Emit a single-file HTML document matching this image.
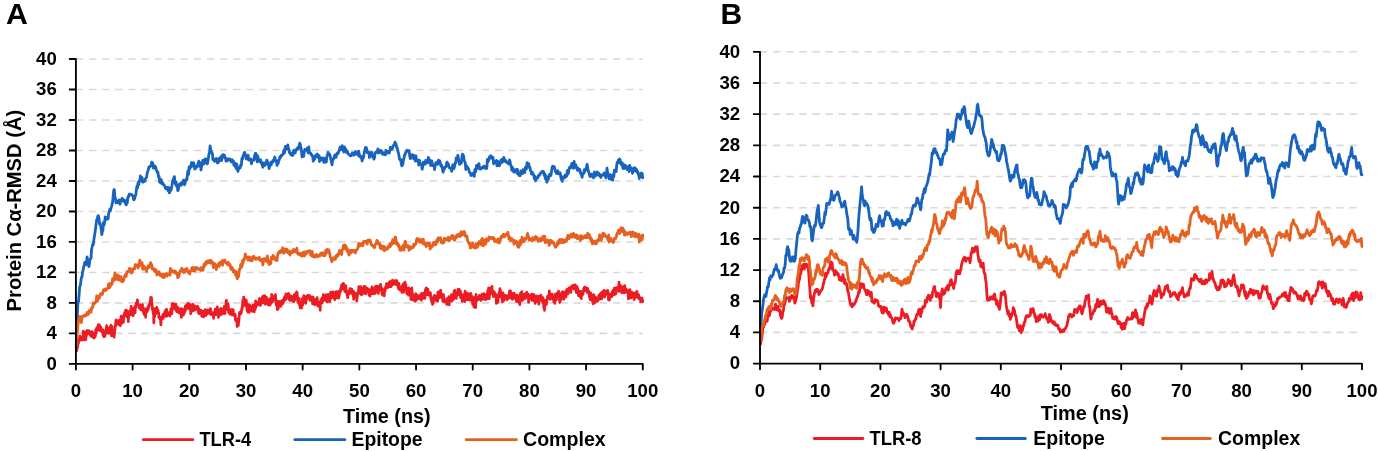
<!DOCTYPE html>
<html><head><meta charset="utf-8"><style>
html,body{margin:0;padding:0;background:#fff;width:1378px;height:451px;overflow:hidden}
svg{position:absolute;left:0;top:0;display:block;will-change:transform}
text{font-family:"Liberation Sans", sans-serif;font-weight:bold}
</style></head><body>
<svg width="1378" height="451" viewBox="0 0 1378 451">
<rect width="1378" height="451" fill="#fff"/>
<line x1="75.90" y1="333.41" x2="642.80" y2="333.41" stroke="#d9d9d9" stroke-width="1.6" stroke-dasharray="7.3 5.8"/>
<line x1="75.90" y1="302.92" x2="642.80" y2="302.92" stroke="#d9d9d9" stroke-width="1.6" stroke-dasharray="7.3 5.8"/>
<line x1="75.90" y1="272.43" x2="642.80" y2="272.43" stroke="#d9d9d9" stroke-width="1.6" stroke-dasharray="7.3 5.8"/>
<line x1="75.90" y1="241.94" x2="642.80" y2="241.94" stroke="#d9d9d9" stroke-width="1.6" stroke-dasharray="7.3 5.8"/>
<line x1="75.90" y1="211.45" x2="642.80" y2="211.45" stroke="#d9d9d9" stroke-width="1.6" stroke-dasharray="7.3 5.8"/>
<line x1="75.90" y1="180.96" x2="642.80" y2="180.96" stroke="#d9d9d9" stroke-width="1.6" stroke-dasharray="7.3 5.8"/>
<line x1="75.90" y1="150.47" x2="642.80" y2="150.47" stroke="#d9d9d9" stroke-width="1.6" stroke-dasharray="7.3 5.8"/>
<line x1="75.90" y1="119.98" x2="642.80" y2="119.98" stroke="#d9d9d9" stroke-width="1.6" stroke-dasharray="7.3 5.8"/>
<line x1="75.90" y1="89.49" x2="642.80" y2="89.49" stroke="#d9d9d9" stroke-width="1.6" stroke-dasharray="7.3 5.8"/>
<line x1="75.90" y1="59.00" x2="642.80" y2="59.00" stroke="#d9d9d9" stroke-width="1.6" stroke-dasharray="7.3 5.8"/>
<line x1="760.00" y1="332.42" x2="1362.00" y2="332.42" stroke="#d9d9d9" stroke-width="1.6" stroke-dasharray="7.3 5.8"/>
<line x1="760.00" y1="301.24" x2="1362.00" y2="301.24" stroke="#d9d9d9" stroke-width="1.6" stroke-dasharray="7.3 5.8"/>
<line x1="760.00" y1="270.06" x2="1362.00" y2="270.06" stroke="#d9d9d9" stroke-width="1.6" stroke-dasharray="7.3 5.8"/>
<line x1="760.00" y1="238.88" x2="1362.00" y2="238.88" stroke="#d9d9d9" stroke-width="1.6" stroke-dasharray="7.3 5.8"/>
<line x1="760.00" y1="207.70" x2="1362.00" y2="207.70" stroke="#d9d9d9" stroke-width="1.6" stroke-dasharray="7.3 5.8"/>
<line x1="760.00" y1="176.52" x2="1362.00" y2="176.52" stroke="#d9d9d9" stroke-width="1.6" stroke-dasharray="7.3 5.8"/>
<line x1="760.00" y1="145.34" x2="1362.00" y2="145.34" stroke="#d9d9d9" stroke-width="1.6" stroke-dasharray="7.3 5.8"/>
<line x1="760.00" y1="114.16" x2="1362.00" y2="114.16" stroke="#d9d9d9" stroke-width="1.6" stroke-dasharray="7.3 5.8"/>
<line x1="760.00" y1="82.98" x2="1362.00" y2="82.98" stroke="#d9d9d9" stroke-width="1.6" stroke-dasharray="7.3 5.8"/>
<line x1="760.00" y1="51.80" x2="1362.00" y2="51.80" stroke="#d9d9d9" stroke-width="1.6" stroke-dasharray="7.3 5.8"/>
<polyline points="76.4,351.0 76.7,350.9 77.0,348.9 77.3,343.7 77.5,347.4 77.8,345.7 78.1,342.5 78.4,343.4 78.7,341.5 79.0,339.8 79.2,339.3 79.5,338.8 79.8,335.9 80.1,337.9 80.4,337.4 80.7,340.1 80.9,338.2 81.2,337.4 81.5,337.4 81.8,337.9 82.1,338.2 82.4,336.9 82.6,339.9 82.9,339.0 83.2,331.1 83.5,332.0 83.8,334.7 84.1,333.9 84.3,335.1 84.6,335.5 84.9,339.9 85.2,332.2 85.5,333.9 85.8,339.6 86.0,336.4 86.3,336.1 86.6,333.6 86.9,330.7 87.2,333.7 87.5,334.1 87.7,330.5 88.0,331.5 88.3,332.7 88.6,330.6 88.9,332.3 89.2,332.1 89.4,332.3 89.7,331.2 90.0,333.8 90.3,335.0 90.6,334.3 90.9,332.4 91.1,336.5 91.4,333.7 91.7,335.8 92.0,331.5 92.3,336.4 92.6,334.9 92.8,332.5 93.1,334.7 93.4,336.6 93.7,338.1 94.0,335.4 94.3,335.7 94.5,337.6 94.8,335.0 95.1,336.0 95.4,336.2 95.7,329.7 96.0,333.0 96.2,333.3 96.5,329.2 96.8,327.6 97.1,330.3 97.4,329.2 97.7,330.5 97.9,327.3 98.2,324.6 98.5,327.7 98.8,327.3 99.1,329.4 99.4,328.5 99.6,325.2 99.9,326.3 100.2,330.6 100.5,330.0 100.8,327.2 101.1,328.4 101.3,330.6 101.6,330.6 101.9,331.9 102.2,331.3 102.5,331.8 102.8,332.2 103.0,335.4 103.3,329.9 103.6,335.5 103.9,336.8 104.2,333.3 104.5,336.6 104.8,333.5 105.0,336.1 105.3,333.0 105.6,333.5 105.9,333.4 106.2,330.6 106.5,326.9 106.7,325.5 107.0,332.3 107.3,329.7 107.6,329.2 107.9,331.4 108.2,330.3 108.4,333.5 108.7,330.7 109.0,330.1 109.3,328.0 109.6,330.1 109.9,326.8 110.1,330.6 110.4,333.4 110.7,327.0 111.0,325.2 111.3,331.9 111.6,335.8 111.8,327.4 112.1,326.6 112.4,331.6 112.7,329.8 113.0,332.4 113.3,333.4 113.5,336.2 113.8,335.9 114.1,337.2 114.4,334.4 114.7,330.8 115.0,329.7 115.2,325.7 115.5,325.9 115.8,321.2 116.1,319.8 116.4,325.2 116.7,322.2 116.9,322.4 117.2,322.9 117.5,320.9 117.8,321.7 118.1,323.7 118.4,323.7 118.6,320.5 118.9,324.3 119.2,320.6 119.5,319.9 119.8,319.6 120.1,321.0 120.3,325.8 120.6,318.7 120.9,321.6 121.2,316.2 121.5,321.5 121.8,323.4 122.0,320.2 122.3,319.1 122.6,320.2 122.9,320.8 123.2,320.1 123.5,322.2 123.7,317.6 124.0,314.4 124.3,313.8 124.6,313.0 124.9,312.3 125.2,311.6 125.4,313.4 125.7,310.1 126.0,315.7 126.3,312.0 126.6,310.4 126.9,314.9 127.1,317.2 127.4,315.4 127.7,315.0 128.0,312.9 128.3,321.6 128.6,316.0 128.8,311.5 129.1,312.4 129.4,314.5 129.7,310.9 130.0,313.9 130.3,312.0 130.5,314.9 130.8,314.4 131.1,306.3 131.4,312.4 131.7,308.0 132.0,313.3 132.2,311.8 132.5,312.5 132.8,309.5 133.1,315.7 133.4,315.0 133.7,308.3 134.0,311.7 134.2,308.8 134.5,308.9 134.8,306.3 135.1,312.7 135.4,306.1 135.7,305.7 135.9,307.3 136.2,303.0 136.5,303.2 136.8,302.7 137.1,302.6 137.4,299.9 137.6,301.8 137.9,303.6 138.2,304.4 138.5,305.2 138.8,305.1 139.1,307.8 139.3,305.7 139.6,306.4 139.9,304.9 140.2,305.8 140.5,304.7 140.8,309.9 141.0,306.6 141.3,306.6 141.6,308.9 141.9,309.7 142.2,308.5 142.5,304.6 142.7,310.6 143.0,310.7 143.3,307.7 143.6,313.1 143.9,311.0 144.2,311.3 144.4,314.8 144.7,314.1 145.0,315.1 145.3,310.2 145.6,317.3 145.9,311.2 146.1,308.5 146.4,312.4 146.7,310.3 147.0,311.7 147.3,310.1 147.6,310.0 147.8,310.3 148.1,307.0 148.4,309.1 148.7,305.8 149.0,304.8 149.3,306.0 149.5,305.4 149.8,303.2 150.1,301.3 150.4,303.8 150.7,297.4 151.0,298.3 151.2,299.6 151.5,297.7 151.8,302.6 152.1,304.7 152.4,309.4 152.7,307.8 152.9,310.4 153.2,313.8 153.5,309.2 153.8,322.9 154.1,316.1 154.4,313.9 154.6,316.8 154.9,313.1 155.2,308.7 155.5,314.1 155.8,313.4 156.1,308.8 156.3,309.3 156.6,311.0 156.9,307.4 157.2,311.2 157.5,310.9 157.8,310.2 158.0,310.0 158.3,313.3 158.6,312.5 158.9,317.7 159.2,316.8 159.5,318.2 159.7,318.0 160.0,319.0 160.3,317.2 160.6,321.5 160.9,324.8 161.2,320.2 161.5,318.6 161.7,319.3 162.0,317.3 162.3,316.2 162.6,316.7 162.9,314.5 163.2,318.3 163.4,314.7 163.7,315.1 164.0,316.4 164.3,313.4 164.6,316.4 164.9,311.5 165.1,311.0 165.4,311.9 165.7,312.6 166.0,309.8 166.3,312.7 166.6,309.2 166.8,316.3 167.1,314.3 167.4,312.7 167.7,312.5 168.0,313.1 168.3,314.4 168.5,312.5 168.8,313.0 169.1,315.0 169.4,314.1 169.7,315.9 170.0,316.0 170.2,312.8 170.5,313.4 170.8,308.9 171.1,312.9 171.4,310.9 171.7,311.3 171.9,313.6 172.2,303.6 172.5,308.4 172.8,304.4 173.1,307.8 173.4,303.7 173.6,305.7 173.9,307.3 174.2,308.3 174.5,306.7 174.8,305.2 175.1,306.2 175.3,309.5 175.6,307.6 175.9,304.0 176.2,310.7 176.5,310.2 176.8,311.6 177.0,309.0 177.3,311.5 177.6,307.2 177.9,311.9 178.2,308.9 178.5,311.8 178.7,312.7 179.0,309.0 179.3,309.9 179.6,309.9 179.9,313.2 180.2,312.1 180.4,308.6 180.7,312.8 181.0,313.9 181.3,317.4 181.6,308.5 181.9,310.9 182.1,315.6 182.4,309.2 182.7,310.5 183.0,314.1 183.3,315.2 183.6,310.4 183.8,312.7 184.1,310.9 184.4,313.4 184.7,309.1 185.0,311.4 185.3,306.0 185.5,307.4 185.8,307.2 186.1,309.7 186.4,307.4 186.7,304.5 187.0,307.6 187.2,307.4 187.5,305.9 187.8,305.8 188.1,306.6 188.4,303.2 188.7,307.9 188.9,308.5 189.2,305.8 189.5,308.5 189.8,304.3 190.1,306.6 190.4,307.9 190.7,313.8 190.9,306.1 191.2,310.6 191.5,311.5 191.8,309.9 192.1,311.2 192.4,306.4 192.6,304.2 192.9,310.8 193.2,306.0 193.5,308.0 193.8,305.6 194.1,309.7 194.3,309.7 194.6,305.9 194.9,310.1 195.2,308.4 195.5,307.4 195.8,307.9 196.0,307.8 196.3,309.4 196.6,308.2 196.9,306.8 197.2,309.7 197.5,306.0 197.7,307.9 198.0,308.9 198.3,312.3 198.6,308.1 198.9,313.8 199.2,311.1 199.4,311.3 199.7,310.3 200.0,313.1 200.3,312.3 200.6,310.0 200.9,310.3 201.1,312.4 201.4,312.0 201.7,316.2 202.0,316.3 202.3,315.0 202.6,313.5 202.8,311.3 203.1,312.3 203.4,313.9 203.7,316.9 204.0,314.6 204.3,311.2 204.5,312.4 204.8,310.2 205.1,309.7 205.4,311.4 205.7,312.0 206.0,315.5 206.2,311.2 206.5,314.6 206.8,314.0 207.1,310.0 207.4,312.8 207.7,311.3 207.9,309.9 208.2,312.2 208.5,312.1 208.8,311.7 209.1,311.5 209.4,313.0 209.6,313.9 209.9,310.6 210.2,312.0 210.5,308.5 210.8,313.1 211.1,314.6 211.3,314.4 211.6,314.1 211.9,314.6 212.2,312.5 212.5,313.5 212.8,315.3 213.0,315.5 213.3,313.9 213.6,318.5 213.9,312.5 214.2,314.6 214.5,314.4 214.7,312.2 215.0,310.7 215.3,309.1 215.6,312.6 215.9,314.7 216.2,313.1 216.4,312.7 216.7,311.0 217.0,312.7 217.3,306.9 217.6,312.5 217.9,312.2 218.2,309.3 218.4,317.5 218.7,309.6 219.0,310.5 219.3,310.5 219.6,315.4 219.9,310.7 220.1,313.7 220.4,312.7 220.7,311.2 221.0,308.4 221.3,309.8 221.6,314.5 221.8,308.7 222.1,310.0 222.4,311.3 222.7,313.7 223.0,312.1 223.3,312.9 223.5,309.1 223.8,313.2 224.1,311.4 224.4,306.2 224.7,312.8 225.0,313.6 225.2,305.8 225.5,307.8 225.8,309.8 226.1,302.0 226.4,300.3 226.7,302.3 226.9,303.4 227.2,303.6 227.5,305.8 227.8,305.6 228.1,303.6 228.4,308.2 228.6,312.5 228.9,311.9 229.2,312.3 229.5,311.7 229.8,314.2 230.1,309.6 230.3,313.4 230.6,311.7 230.9,313.5 231.2,312.8 231.5,309.5 231.8,312.1 232.0,314.9 232.3,309.5 232.6,311.4 232.9,311.0 233.2,309.7 233.5,314.6 233.7,315.3 234.0,314.9 234.3,314.0 234.6,313.8 234.9,315.2 235.2,314.4 235.4,319.1 235.7,320.5 236.0,321.0 236.3,318.8 236.6,321.5 236.9,321.5 237.1,326.5 237.4,323.8 237.7,318.8 238.0,323.3 238.3,325.7 238.6,322.3 238.8,321.5 239.1,319.0 239.4,313.1 239.7,312.3 240.0,313.3 240.3,313.9 240.5,313.9 240.8,313.9 241.1,310.9 241.4,312.7 241.7,309.6 242.0,307.3 242.2,309.5 242.5,305.2 242.8,300.0 243.1,303.2 243.4,305.1 243.7,297.1 243.9,302.3 244.2,301.7 244.5,299.4 244.8,299.4 245.1,302.0 245.4,301.6 245.6,306.0 245.9,303.7 246.2,300.0 246.5,302.0 246.8,307.1 247.1,310.7 247.4,307.7 247.6,308.3 247.9,312.1 248.2,307.7 248.5,306.2 248.8,304.7 249.1,307.1 249.3,312.3 249.6,305.1 249.9,308.9 250.2,305.7 250.5,309.4 250.8,310.0 251.0,307.2 251.3,309.2 251.6,309.3 251.9,308.7 252.2,311.3 252.5,309.2 252.7,306.1 253.0,305.7 253.3,304.8 253.6,307.7 253.9,305.6 254.2,311.8 254.4,309.8 254.7,305.1 255.0,305.0 255.3,309.5 255.6,300.9 255.9,304.0 256.1,306.9 256.4,302.2 256.7,302.5 257.0,302.8 257.3,304.7 257.6,302.8 257.8,303.4 258.1,304.0 258.4,302.8 258.7,304.6 259.0,300.3 259.3,299.5 259.5,298.4 259.8,298.6 260.1,302.0 260.4,305.5 260.7,303.2 261.0,300.5 261.2,299.5 261.5,299.9 261.8,300.2 262.1,299.4 262.4,296.6 262.7,299.6 262.9,302.8 263.2,296.1 263.5,300.5 263.8,295.8 264.1,300.8 264.4,298.4 264.6,295.7 264.9,300.5 265.2,304.2 265.5,301.5 265.8,304.2 266.1,301.8 266.3,297.0 266.6,303.2 266.9,300.7 267.2,298.9 267.5,303.7 267.8,303.0 268.0,301.4 268.3,304.9 268.6,301.6 268.9,305.1 269.2,301.5 269.5,303.7 269.7,298.9 270.0,305.0 270.3,302.3 270.6,303.9 270.9,299.6 271.2,299.6 271.4,302.4 271.7,294.4 272.0,297.7 272.3,302.2 272.6,299.8 272.9,300.6 273.1,297.8 273.4,300.3 273.7,297.8 274.0,296.6 274.3,296.1 274.6,299.6 274.9,299.8 275.1,300.3 275.4,294.6 275.7,298.5 276.0,302.4 276.3,305.0 276.6,303.2 276.8,303.2 277.1,301.0 277.4,309.7 277.7,302.5 278.0,308.1 278.3,308.6 278.5,304.9 278.8,302.9 279.1,304.7 279.4,301.3 279.7,304.2 280.0,303.2 280.2,303.6 280.5,304.5 280.8,306.4 281.1,301.5 281.4,304.7 281.7,300.9 281.9,301.1 282.2,300.9 282.5,300.1 282.8,303.8 283.1,302.4 283.4,302.6 283.6,299.9 283.9,300.5 284.2,297.8 284.5,297.1 284.8,300.5 285.1,299.7 285.3,296.0 285.6,299.6 285.9,293.9 286.2,297.6 286.5,296.3 286.8,296.4 287.0,294.6 287.3,297.9 287.6,297.0 287.9,298.2 288.2,296.2 288.5,293.4 288.7,295.4 289.0,294.4 289.3,297.7 289.6,300.4 289.9,298.5 290.2,297.2 290.4,298.6 290.7,299.6 291.0,295.9 291.3,300.1 291.6,300.6 291.9,298.8 292.1,298.0 292.4,298.5 292.7,296.6 293.0,297.3 293.3,300.3 293.6,298.6 293.8,301.9 294.1,296.1 294.4,294.6 294.7,300.2 295.0,299.2 295.3,296.1 295.5,294.2 295.8,297.8 296.1,293.0 296.4,296.2 296.7,291.8 297.0,295.7 297.2,292.8 297.5,298.3 297.8,302.5 298.1,299.5 298.4,301.9 298.7,299.2 298.9,299.3 299.2,298.5 299.5,305.2 299.8,302.9 300.1,307.8 300.4,302.8 300.6,305.4 300.9,306.0 301.2,307.4 301.5,308.0 301.8,302.0 302.1,300.7 302.3,298.6 302.6,305.1 302.9,301.7 303.2,300.1 303.5,301.3 303.8,295.5 304.1,297.4 304.3,302.4 304.6,301.1 304.9,300.2 305.2,297.2 305.5,300.1 305.8,303.3 306.0,296.6 306.3,298.8 306.6,297.7 306.9,299.2 307.2,298.0 307.5,296.9 307.7,295.3 308.0,297.0 308.3,295.5 308.6,296.9 308.9,296.3 309.2,297.7 309.4,295.4 309.7,296.7 310.0,300.3 310.3,298.0 310.6,297.0 310.9,300.1 311.1,299.2 311.4,299.4 311.7,299.5 312.0,296.8 312.3,301.2 312.6,303.9 312.8,302.4 313.1,297.2 313.4,301.4 313.7,299.2 314.0,301.1 314.3,302.9 314.5,299.8 314.8,304.8 315.1,301.5 315.4,303.8 315.7,303.2 316.0,304.4 316.2,303.9 316.5,298.9 316.8,302.5 317.1,297.7 317.4,302.0 317.7,304.9 317.9,305.0 318.2,306.3 318.5,302.9 318.8,303.5 319.1,302.7 319.4,305.7 319.6,306.6 319.9,301.9 320.2,310.3 320.5,301.8 320.8,299.9 321.1,302.1 321.3,302.1 321.6,301.4 321.9,298.2 322.2,303.0 322.5,298.5 322.8,301.2 323.0,301.0 323.3,294.6 323.6,295.9 323.9,296.0 324.2,298.4 324.5,298.4 324.7,298.8 325.0,296.5 325.3,298.9 325.6,300.6 325.9,294.9 326.2,297.4 326.4,297.9 326.7,296.6 327.0,296.7 327.3,301.8 327.6,300.2 327.9,299.5 328.1,294.4 328.4,300.5 328.7,296.8 329.0,295.6 329.3,296.1 329.6,295.9 329.8,301.7 330.1,297.8 330.4,296.8 330.7,292.1 331.0,298.2 331.3,294.0 331.6,293.7 331.8,297.4 332.1,293.7 332.4,297.3 332.7,297.5 333.0,291.8 333.3,295.6 333.5,292.1 333.8,296.0 334.1,298.4 334.4,293.3 334.7,299.6 335.0,294.8 335.2,292.9 335.5,295.5 335.8,297.1 336.1,291.7 336.4,295.5 336.7,292.7 336.9,298.0 337.2,294.8 337.5,293.4 337.8,296.8 338.1,291.7 338.4,293.6 338.6,298.1 338.9,293.9 339.2,296.4 339.5,293.3 339.8,290.6 340.1,290.8 340.3,292.0 340.6,289.6 340.9,288.4 341.2,287.7 341.5,285.2 341.8,288.5 342.0,288.1 342.3,288.7 342.6,283.9 342.9,289.2 343.2,287.2 343.5,283.3 343.7,287.3 344.0,288.6 344.3,288.6 344.6,289.6 344.9,291.6 345.2,291.9 345.4,290.0 345.7,285.7 346.0,288.5 346.3,291.9 346.6,291.3 346.9,294.0 347.1,295.1 347.4,293.6 347.7,297.6 348.0,291.4 348.3,294.7 348.6,291.2 348.8,291.0 349.1,293.0 349.4,290.4 349.7,293.5 350.0,288.6 350.3,291.3 350.5,289.6 350.8,291.2 351.1,289.6 351.4,288.9 351.7,292.8 352.0,289.3 352.2,290.0 352.5,294.0 352.8,294.3 353.1,295.3 353.4,295.3 353.7,299.3 353.9,291.7 354.2,293.2 354.5,292.8 354.8,296.9 355.1,295.4 355.4,296.7 355.6,296.8 355.9,294.7 356.2,294.4 356.5,293.6 356.8,300.9 357.1,297.5 357.3,296.7 357.6,293.9 357.9,293.2 358.2,291.5 358.5,291.5 358.8,286.5 359.0,291.7 359.3,290.2 359.6,292.8 359.9,292.1 360.2,293.7 360.5,291.9 360.8,294.2 361.0,286.6 361.3,289.3 361.6,295.0 361.9,289.0 362.2,291.2 362.5,293.5 362.7,289.7 363.0,293.3 363.3,288.8 363.6,287.8 363.9,287.9 364.2,286.4 364.4,290.5 364.7,289.3 365.0,290.2 365.3,286.6 365.6,294.0 365.9,288.0 366.1,288.7 366.4,289.9 366.7,289.6 367.0,288.3 367.3,289.3 367.6,291.3 367.8,290.6 368.1,292.4 368.4,289.2 368.7,289.4 369.0,295.1 369.3,290.9 369.5,293.1 369.8,294.5 370.1,296.2 370.4,290.5 370.7,292.6 371.0,292.9 371.2,292.8 371.5,288.2 371.8,292.8 372.1,286.9 372.4,293.6 372.7,293.6 372.9,293.3 373.2,290.0 373.5,293.9 373.8,289.1 374.1,288.7 374.4,288.7 374.6,288.8 374.9,290.8 375.2,293.3 375.5,286.3 375.8,289.2 376.1,292.0 376.3,290.5 376.6,291.3 376.9,286.0 377.2,291.5 377.5,286.7 377.8,289.5 378.0,292.2 378.3,293.5 378.6,290.3 378.9,290.7 379.2,286.1 379.5,286.9 379.7,290.2 380.0,287.4 380.3,288.1 380.6,284.4 380.9,288.2 381.2,290.0 381.4,287.5 381.7,288.7 382.0,294.5 382.3,291.6 382.6,291.2 382.9,289.8 383.1,290.2 383.4,290.9 383.7,295.7 384.0,291.3 384.3,296.0 384.6,288.8 384.8,289.4 385.1,291.0 385.4,288.0 385.7,286.6 386.0,287.4 386.3,288.0 386.5,283.6 386.8,286.6 387.1,286.7 387.4,286.0 387.7,287.7 388.0,284.1 388.3,283.3 388.5,284.5 388.8,285.8 389.1,283.6 389.4,286.7 389.7,281.6 390.0,286.6 390.2,281.8 390.5,282.4 390.8,283.0 391.1,286.7 391.4,283.7 391.7,281.0 391.9,285.1 392.2,281.4 392.5,280.0 392.8,282.4 393.1,282.2 393.4,284.4 393.6,282.2 393.9,284.0 394.2,283.8 394.5,283.0 394.8,282.0 395.1,280.5 395.3,284.4 395.6,282.3 395.9,283.3 396.2,280.7 396.5,282.5 396.8,280.7 397.0,283.5 397.3,285.2 397.6,284.8 397.9,286.7 398.2,286.5 398.5,288.9 398.7,285.9 399.0,283.3 399.3,289.2 399.6,288.3 399.9,286.9 400.2,290.2 400.4,289.0 400.7,288.9 401.0,288.0 401.3,289.6 401.6,289.1 401.9,292.3 402.1,286.1 402.4,287.9 402.7,288.9 403.0,284.1 403.3,283.8 403.6,292.3 403.8,283.8 404.1,288.7 404.4,285.8 404.7,285.1 405.0,282.0 405.3,284.0 405.5,288.3 405.8,284.7 406.1,289.4 406.4,289.7 406.7,293.6 407.0,288.2 407.2,292.9 407.5,292.5 407.8,290.9 408.1,288.4 408.4,295.2 408.7,287.8 408.9,290.3 409.2,293.1 409.5,293.4 409.8,289.0 410.1,291.1 410.4,291.2 410.6,295.0 410.9,299.4 411.2,289.7 411.5,296.2 411.8,287.8 412.1,294.2 412.3,292.4 412.6,299.9 412.9,295.8 413.2,294.9 413.5,295.2 413.8,295.7 414.0,297.5 414.3,297.3 414.6,299.5 414.9,301.3 415.2,299.8 415.5,294.9 415.7,293.6 416.0,295.5 416.3,300.4 416.6,297.1 416.9,296.3 417.2,299.0 417.5,295.4 417.7,295.8 418.0,298.7 418.3,296.7 418.6,296.5 418.9,298.0 419.2,296.1 419.4,295.8 419.7,296.5 420.0,298.9 420.3,297.2 420.6,294.5 420.9,297.0 421.1,298.7 421.4,300.3 421.7,293.4 422.0,296.3 422.3,295.9 422.6,298.2 422.8,296.4 423.1,298.2 423.4,296.6 423.7,293.3 424.0,292.9 424.3,294.8 424.5,294.5 424.8,298.4 425.1,296.8 425.4,289.7 425.7,292.8 426.0,288.8 426.2,287.9 426.5,293.1 426.8,292.7 427.1,289.0 427.4,294.7 427.7,289.1 427.9,289.2 428.2,294.2 428.5,293.2 428.8,293.1 429.1,294.2 429.4,295.3 429.6,295.2 429.9,295.6 430.2,292.5 430.5,293.5 430.8,298.7 431.1,296.1 431.3,299.2 431.6,301.2 431.9,298.8 432.2,300.5 432.5,304.4 432.8,301.6 433.0,303.6 433.3,302.2 433.6,299.5 433.9,297.5 434.2,295.9 434.5,295.3 434.7,298.8 435.0,299.3 435.3,297.2 435.6,299.0 435.9,296.7 436.2,300.6 436.4,297.9 436.7,296.6 437.0,296.2 437.3,295.7 437.6,301.3 437.9,292.2 438.1,295.8 438.4,298.5 438.7,296.5 439.0,293.9 439.3,297.9 439.6,291.9 439.8,291.3 440.1,295.5 440.4,290.8 440.7,290.2 441.0,297.2 441.3,296.1 441.5,296.4 441.8,294.0 442.1,296.2 442.4,294.6 442.7,301.1 443.0,299.3 443.2,299.3 443.5,294.6 443.8,301.6 444.1,302.0 444.4,302.0 444.7,301.3 445.0,300.0 445.2,300.6 445.5,302.0 445.8,301.0 446.1,301.9 446.4,300.3 446.7,304.5 446.9,298.7 447.2,300.8 447.5,299.5 447.8,303.0 448.1,304.5 448.4,303.1 448.6,301.5 448.9,296.7 449.2,304.8 449.5,301.0 449.8,299.8 450.1,299.7 450.3,298.7 450.6,300.9 450.9,300.2 451.2,299.8 451.5,294.6 451.8,300.2 452.0,301.2 452.3,300.0 452.6,297.3 452.9,298.6 453.2,299.1 453.5,295.3 453.7,299.2 454.0,291.0 454.3,293.0 454.6,293.9 454.9,290.3 455.2,293.4 455.4,297.6 455.7,297.7 456.0,294.4 456.3,298.5 456.6,294.5 456.9,292.3 457.1,294.2 457.4,293.3 457.7,294.4 458.0,289.4 458.3,294.6 458.6,291.1 458.8,294.4 459.1,289.4 459.4,292.3 459.7,293.6 460.0,295.4 460.3,290.6 460.5,297.7 460.8,294.5 461.1,293.2 461.4,297.9 461.7,296.2 462.0,298.1 462.2,301.3 462.5,298.1 462.8,295.6 463.1,297.1 463.4,299.1 463.7,298.4 463.9,295.1 464.2,294.4 464.5,297.6 464.8,301.7 465.1,291.2 465.4,298.8 465.6,295.9 465.9,298.6 466.2,299.6 466.5,298.6 466.8,295.7 467.1,294.5 467.3,293.2 467.6,299.8 467.9,296.0 468.2,295.3 468.5,296.9 468.8,294.2 469.0,297.1 469.3,299.6 469.6,299.3 469.9,294.0 470.2,300.3 470.5,295.8 470.7,293.3 471.0,294.8 471.3,296.1 471.6,298.7 471.9,296.9 472.2,296.5 472.4,299.1 472.7,304.4 473.0,299.0 473.3,302.5 473.6,301.0 473.9,306.9 474.2,297.5 474.4,304.1 474.7,298.7 475.0,300.4 475.3,301.5 475.6,307.6 475.9,298.2 476.1,294.3 476.4,301.7 476.7,297.1 477.0,299.0 477.3,299.3 477.6,298.8 477.8,298.6 478.1,298.7 478.4,298.8 478.7,299.6 479.0,297.0 479.3,296.5 479.5,295.3 479.8,298.3 480.1,296.7 480.4,297.6 480.7,297.9 481.0,300.5 481.2,297.7 481.5,299.8 481.8,294.6 482.1,294.2 482.4,296.2 482.7,294.7 482.9,299.0 483.2,294.1 483.5,298.8 483.8,293.6 484.1,296.3 484.4,297.2 484.6,298.1 484.9,294.6 485.2,298.6 485.5,299.8 485.8,298.9 486.1,295.7 486.3,294.4 486.6,294.1 486.9,297.8 487.2,298.9 487.5,293.7 487.8,290.4 488.0,295.4 488.3,296.3 488.6,287.8 488.9,294.2 489.2,298.6 489.5,295.5 489.7,294.5 490.0,293.4 490.3,294.2 490.6,289.0 490.9,287.8 491.2,289.7 491.4,288.2 491.7,290.2 492.0,286.3 492.3,292.9 492.6,294.0 492.9,292.7 493.1,293.2 493.4,296.6 493.7,291.3 494.0,292.4 494.3,291.9 494.6,293.6 494.8,292.9 495.1,295.1 495.4,294.4 495.7,294.2 496.0,295.5 496.3,303.4 496.5,301.7 496.8,302.4 497.1,302.8 497.4,301.3 497.7,302.3 498.0,301.3 498.2,297.9 498.5,295.2 498.8,293.7 499.1,292.3 499.4,296.7 499.7,291.0 499.9,288.6 500.2,290.8 500.5,290.1 500.8,294.6 501.1,292.2 501.4,296.2 501.7,297.1 501.9,298.7 502.2,300.9 502.5,302.0 502.8,298.6 503.1,292.8 503.4,295.5 503.6,296.3 503.9,300.6 504.2,297.6 504.5,297.9 504.8,295.9 505.1,297.3 505.3,297.6 505.6,295.3 505.9,297.7 506.2,298.2 506.5,295.8 506.8,298.2 507.0,299.9 507.3,297.5 507.6,297.3 507.9,296.3 508.2,296.1 508.5,298.4 508.7,296.7 509.0,295.6 509.3,292.7 509.6,290.9 509.9,291.9 510.2,294.6 510.4,290.8 510.7,292.5 511.0,298.2 511.3,296.3 511.6,293.1 511.9,296.7 512.1,294.3 512.4,299.5 512.7,295.0 513.0,296.3 513.3,298.5 513.6,293.3 513.8,298.1 514.1,293.2 514.4,296.3 514.7,295.1 515.0,295.7 515.3,296.1 515.5,296.7 515.8,295.1 516.1,300.8 516.4,300.4 516.7,301.7 517.0,301.5 517.2,295.1 517.5,301.6 517.8,301.7 518.1,296.9 518.4,301.4 518.7,302.3 518.9,298.5 519.2,296.1 519.5,298.5 519.8,304.6 520.1,298.1 520.4,293.5 520.6,294.1 520.9,292.6 521.2,295.1 521.5,296.9 521.8,291.7 522.1,298.1 522.3,300.5 522.6,296.7 522.9,296.1 523.2,299.5 523.5,294.5 523.8,294.7 524.0,294.3 524.3,296.7 524.6,298.0 524.9,296.9 525.2,297.7 525.5,298.4 525.7,297.0 526.0,293.1 526.3,293.9 526.6,296.9 526.9,292.2 527.2,294.1 527.4,294.5 527.7,296.2 528.0,294.6 528.3,294.5 528.6,302.5 528.9,299.2 529.1,295.3 529.4,296.5 529.7,297.3 530.0,295.4 530.3,298.1 530.6,296.3 530.9,298.2 531.1,298.9 531.4,298.7 531.7,294.0 532.0,300.4 532.3,300.5 532.6,300.5 532.8,297.3 533.1,299.4 533.4,299.4 533.7,294.3 534.0,294.5 534.3,300.4 534.5,297.1 534.8,300.8 535.1,303.4 535.4,297.4 535.7,296.7 536.0,298.7 536.2,300.0 536.5,295.9 536.8,301.2 537.1,301.4 537.4,300.5 537.7,298.0 537.9,301.5 538.2,301.7 538.5,296.4 538.8,304.1 539.1,298.7 539.4,299.8 539.6,297.7 539.9,298.8 540.2,300.2 540.5,296.2 540.8,295.1 541.1,297.7 541.3,296.1 541.6,297.1 541.9,299.0 542.2,299.0 542.5,302.5 542.8,297.6 543.0,300.6 543.3,298.6 543.6,303.6 543.9,308.3 544.2,306.3 544.5,310.4 544.7,306.0 545.0,302.8 545.3,302.5 545.6,300.4 545.9,301.6 546.2,302.3 546.4,304.6 546.7,302.5 547.0,300.8 547.3,298.2 547.6,296.1 547.9,297.0 548.1,297.0 548.4,296.2 548.7,297.0 549.0,295.3 549.3,290.9 549.6,292.8 549.8,294.1 550.1,299.5 550.4,294.3 550.7,296.2 551.0,298.0 551.3,295.7 551.5,295.8 551.8,297.0 552.1,294.2 552.4,297.0 552.7,299.0 553.0,298.8 553.2,298.1 553.5,297.7 553.8,301.9 554.1,296.6 554.4,299.3 554.7,301.1 554.9,303.3 555.2,294.2 555.5,298.0 555.8,297.5 556.1,295.8 556.4,299.8 556.6,297.9 556.9,296.2 557.2,293.0 557.5,293.1 557.8,293.5 558.1,296.6 558.4,293.1 558.6,291.2 558.9,292.7 559.2,294.7 559.5,300.3 559.8,302.5 560.1,296.9 560.3,299.7 560.6,300.6 560.9,299.8 561.2,296.7 561.5,293.7 561.8,295.0 562.0,292.1 562.3,297.4 562.6,298.0 562.9,291.7 563.2,295.7 563.5,296.5 563.7,299.2 564.0,298.9 564.3,297.3 564.6,293.4 564.9,293.4 565.2,296.5 565.4,291.8 565.7,293.1 566.0,297.0 566.3,293.4 566.6,289.5 566.9,292.3 567.1,294.0 567.4,292.6 567.7,293.8 568.0,293.8 568.3,288.9 568.6,288.9 568.8,290.0 569.1,287.9 569.4,291.1 569.7,290.1 570.0,291.4 570.3,288.3 570.5,287.4 570.8,292.4 571.1,286.8 571.4,286.9 571.7,286.7 572.0,287.1 572.2,285.7 572.5,287.8 572.8,286.1 573.1,286.3 573.4,288.2 573.7,288.8 573.9,287.9 574.2,285.0 574.5,287.3 574.8,286.2 575.1,287.1 575.4,284.8 575.6,290.1 575.9,288.6 576.2,292.5 576.5,290.0 576.8,287.2 577.1,286.7 577.3,292.9 577.6,288.0 577.9,291.4 578.2,289.8 578.5,295.6 578.8,291.5 579.0,295.0 579.3,294.9 579.6,291.6 579.9,292.8 580.2,297.0 580.5,293.7 580.7,291.3 581.0,295.7 581.3,298.7 581.6,293.5 581.9,295.6 582.2,291.7 582.4,294.4 582.7,291.3 583.0,294.3 583.3,291.6 583.6,289.1 583.9,290.3 584.1,287.9 584.4,287.2 584.7,287.9 585.0,289.5 585.3,287.1 585.6,290.7 585.8,290.5 586.1,290.1 586.4,288.1 586.7,289.8 587.0,290.1 587.3,292.5 587.6,288.3 587.8,289.6 588.1,290.5 588.4,291.2 588.7,291.1 589.0,292.7 589.3,296.7 589.5,293.5 589.8,296.8 590.1,299.7 590.4,299.1 590.7,292.8 591.0,299.0 591.2,298.6 591.5,299.1 591.8,294.9 592.1,300.8 592.4,296.0 592.7,301.5 592.9,300.0 593.2,303.8 593.5,297.4 593.8,294.7 594.1,301.3 594.4,301.1 594.6,298.8 594.9,302.8 595.2,302.0 595.5,297.2 595.8,299.0 596.1,298.5 596.3,300.3 596.6,300.4 596.9,298.2 597.2,299.7 597.5,301.4 597.8,299.2 598.0,299.1 598.3,298.7 598.6,299.3 598.9,295.0 599.2,299.3 599.5,295.7 599.7,298.3 600.0,294.0 600.3,298.8 600.6,297.3 600.9,293.1 601.2,296.2 601.4,293.6 601.7,298.9 602.0,295.9 602.3,291.9 602.6,293.6 602.9,294.1 603.1,295.9 603.4,293.8 603.7,294.7 604.0,290.4 604.3,294.4 604.6,297.2 604.8,295.0 605.1,293.3 605.4,294.2 605.7,291.6 606.0,294.3 606.3,291.1 606.5,293.2 606.8,292.4 607.1,291.0 607.4,294.5 607.7,290.3 608.0,294.0 608.2,292.1 608.5,299.9 608.8,299.7 609.1,296.9 609.4,300.2 609.7,297.3 609.9,297.1 610.2,295.5 610.5,294.2 610.8,296.6 611.1,294.5 611.4,294.9 611.6,296.9 611.9,294.9 612.2,291.7 612.5,294.9 612.8,292.6 613.1,292.9 613.3,290.0 613.6,293.8 613.9,294.9 614.2,288.1 614.5,292.3 614.8,291.7 615.1,288.7 615.3,291.1 615.6,294.1 615.9,292.4 616.2,293.2 616.5,287.6 616.8,288.0 617.0,290.6 617.3,290.2 617.6,289.4 617.9,288.1 618.2,287.6 618.5,286.9 618.7,289.6 619.0,282.1 619.3,291.4 619.6,287.5 619.9,285.3 620.2,290.0 620.4,285.3 620.7,289.4 621.0,288.5 621.3,291.0 621.6,291.7 621.9,292.8 622.1,289.1 622.4,288.9 622.7,289.0 623.0,286.5 623.3,290.3 623.6,290.3 623.8,287.7 624.1,292.8 624.4,292.4 624.7,285.7 625.0,290.5 625.3,292.3 625.5,292.4 625.8,288.9 626.1,288.9 626.4,292.2 626.7,290.9 627.0,291.9 627.2,291.4 627.5,292.8 627.8,290.3 628.1,291.3 628.4,299.0 628.7,292.0 628.9,293.5 629.2,292.4 629.5,292.2 629.8,289.7 630.1,293.0 630.4,291.8 630.6,294.5 630.9,297.8 631.2,293.4 631.5,295.3 631.8,292.1 632.1,294.6 632.3,297.4 632.6,294.1 632.9,292.8 633.2,294.9 633.5,293.6 633.8,294.6 634.0,294.2 634.3,299.6 634.6,293.0 634.9,294.3 635.2,293.0 635.5,296.6 635.7,292.5 636.0,297.0 636.3,294.2 636.6,293.5 636.9,291.4 637.2,297.5 637.4,296.3 637.7,296.9 638.0,296.3 638.3,296.0 638.6,294.6 638.9,298.7 639.1,298.1 639.4,297.6 639.7,297.9 640.0,298.5 640.3,297.8 640.6,301.6 640.8,300.7 641.1,298.1 641.4,297.9 641.7,300.0 642.0,298.1 642.3,299.7 642.5,300.4 642.8,301.7" fill="none" stroke="#ec1c24" stroke-width="2.7" stroke-linejoin="round" stroke-linecap="round"/>
<polyline points="76.3,347.1 76.9,327.5 77.4,313.3 78.0,300.8 78.6,301.4 79.1,294.4 79.7,287.1 80.3,285.3 80.8,282.0 81.4,277.3 82.0,277.1 82.5,272.7 83.1,270.2 83.7,266.6 84.2,265.1 84.8,262.4 85.4,264.9 85.9,264.8 86.5,262.2 87.1,257.0 87.6,261.9 88.2,263.6 88.8,266.6 89.3,264.9 89.9,259.3 90.5,258.9 91.0,258.2 91.6,249.4 92.2,246.4 92.7,244.4 93.3,244.7 93.9,239.5 94.4,236.4 95.0,232.6 95.6,228.3 96.1,224.1 96.7,219.7 97.3,219.5 97.8,216.1 98.4,215.8 99.0,218.4 99.5,224.2 100.1,223.0 100.7,226.0 101.2,229.3 101.8,234.7 102.4,231.1 102.9,230.7 103.5,222.3 104.1,224.9 104.6,222.1 105.2,217.0 105.8,218.4 106.4,219.3 106.9,217.7 107.5,218.0 108.1,218.9 108.6,214.0 109.2,211.7 109.8,209.3 110.3,210.8 110.9,208.3 111.5,206.6 112.0,204.7 112.6,202.2 113.2,195.5 113.7,190.4 114.3,189.6 114.9,197.7 115.4,198.0 116.0,202.8 116.6,202.0 117.1,201.6 117.7,202.6 118.3,201.8 118.8,200.0 119.4,200.1 120.0,204.2 120.5,201.0 121.1,200.3 121.7,199.2 122.2,198.2 122.8,201.1 123.4,199.7 123.9,199.8 124.5,201.8 125.1,201.4 125.6,204.0 126.2,204.8 126.8,200.0 127.3,203.2 127.9,197.1 128.5,196.9 129.0,194.4 129.6,194.0 130.2,194.7 130.7,194.8 131.3,194.4 131.9,195.2 132.4,195.3 133.0,195.8 133.6,199.5 134.1,199.8 134.7,198.4 135.3,195.4 135.8,195.2 136.4,189.4 137.0,185.9 137.5,188.2 138.1,182.5 138.7,184.8 139.2,180.9 139.8,181.2 140.4,176.0 140.9,180.8 141.5,179.8 142.1,177.5 142.6,182.2 143.2,182.1 143.8,181.0 144.3,180.7 144.9,181.3 145.5,178.5 146.0,178.4 146.6,177.2 147.2,173.3 147.7,171.2 148.3,170.1 148.9,167.0 149.4,167.3 150.0,166.7 150.6,166.0 151.1,165.6 151.7,162.2 152.3,164.8 152.8,163.2 153.4,168.1 154.0,166.1 154.5,167.7 155.1,166.1 155.7,167.2 156.2,169.9 156.8,170.8 157.4,172.5 157.9,172.0 158.5,176.7 159.1,176.4 159.6,182.1 160.2,179.5 160.8,182.9 161.3,179.7 161.9,183.6 162.5,182.6 163.1,183.6 163.6,185.0 164.2,185.2 164.8,186.3 165.3,187.9 165.9,188.8 166.5,188.6 167.0,187.4 167.6,188.8 168.2,190.9 168.7,187.4 169.3,192.8 169.9,191.7 170.4,190.1 171.0,190.1 171.6,187.7 172.1,184.5 172.7,180.7 173.3,179.8 173.8,177.8 174.4,176.6 175.0,182.7 175.5,184.5 176.1,181.9 176.7,186.6 177.2,185.2 177.8,190.6 178.4,189.5 178.9,185.5 179.5,184.2 180.1,184.8 180.6,183.2 181.2,185.4 181.8,183.6 182.3,182.1 182.9,183.9 183.5,180.1 184.0,183.1 184.6,184.7 185.2,182.8 185.7,180.3 186.3,179.2 186.9,179.8 187.4,174.5 188.0,171.0 188.6,174.4 189.1,166.9 189.7,168.9 190.3,166.6 190.8,167.2 191.4,162.7 192.0,166.3 192.5,165.0 193.1,162.7 193.7,162.8 194.2,165.7 194.8,169.1 195.4,168.5 195.9,167.4 196.5,166.3 197.1,166.8 197.6,164.7 198.2,163.3 198.8,161.1 199.3,165.0 199.9,166.3 200.5,162.8 201.0,170.0 201.6,166.0 202.2,163.4 202.7,160.4 203.3,164.0 203.9,164.0 204.4,160.9 205.0,158.9 205.6,162.7 206.1,159.2 206.7,159.4 207.3,163.9 207.8,161.9 208.4,158.0 209.0,153.6 209.5,153.2 210.1,145.8 210.7,150.2 211.2,151.2 211.8,152.7 212.4,153.6 212.9,159.7 213.5,159.9 214.1,159.9 214.6,161.2 215.2,159.6 215.8,158.8 216.3,158.4 216.9,161.6 217.5,163.0 218.0,161.1 218.6,162.2 219.2,158.3 219.8,158.8 220.3,159.0 220.9,156.7 221.5,160.7 222.0,158.5 222.6,154.8 223.2,154.7 223.7,155.5 224.3,155.0 224.9,158.0 225.4,157.6 226.0,161.1 226.6,159.8 227.1,161.0 227.7,159.2 228.3,158.7 228.8,159.9 229.4,159.6 230.0,159.0 230.5,159.7 231.1,161.9 231.7,161.0 232.2,159.7 232.8,161.8 233.4,161.0 233.9,165.4 234.5,164.4 235.1,163.3 235.6,167.0 236.2,168.3 236.8,164.1 237.3,169.3 237.9,171.4 238.5,169.0 239.0,168.9 239.6,167.1 240.2,167.9 240.7,164.8 241.3,165.4 241.9,158.5 242.4,159.5 243.0,155.9 243.6,154.8 244.1,153.1 244.7,152.3 245.3,154.7 245.8,156.9 246.4,159.0 247.0,157.1 247.5,157.3 248.1,155.2 248.7,160.2 249.2,160.0 249.8,158.7 250.4,159.6 250.9,159.1 251.5,163.8 252.1,161.0 252.6,160.3 253.2,160.1 253.8,160.2 254.3,157.3 254.9,154.9 255.5,153.2 256.0,153.6 256.6,158.4 257.2,161.8 257.7,156.0 258.3,159.1 258.9,161.4 259.4,159.8 260.0,161.3 260.6,159.8 261.1,163.1 261.7,162.2 262.3,165.1 262.8,167.3 263.4,165.9 264.0,162.8 264.5,163.4 265.1,165.3 265.7,163.1 266.2,162.9 266.8,160.1 267.4,161.5 267.9,163.9 268.5,164.7 269.1,168.6 269.6,166.2 270.2,165.2 270.8,162.2 271.3,164.8 271.9,162.0 272.5,162.4 273.0,160.5 273.6,160.9 274.2,158.9 274.7,157.0 275.3,159.4 275.9,161.5 276.5,160.5 277.0,165.4 277.6,163.8 278.2,163.5 278.7,160.1 279.3,160.1 279.9,156.7 280.4,157.7 281.0,155.4 281.6,156.0 282.1,154.9 282.7,154.5 283.3,154.0 283.8,150.3 284.4,153.2 285.0,148.1 285.5,146.4 286.1,149.2 286.7,148.9 287.2,147.4 287.8,144.9 288.4,148.5 288.9,149.4 289.5,152.8 290.1,152.6 290.6,154.5 291.2,153.2 291.8,155.4 292.3,154.1 292.9,155.2 293.5,151.0 294.0,150.1 294.6,151.6 295.2,152.9 295.7,150.0 296.3,150.2 296.9,148.4 297.4,149.2 298.0,147.4 298.6,148.8 299.1,146.5 299.7,143.2 300.3,144.8 300.8,147.4 301.4,149.9 302.0,156.9 302.5,156.1 303.1,152.4 303.7,156.3 304.2,152.4 304.8,149.5 305.4,149.9 305.9,150.2 306.5,149.8 307.1,148.3 307.6,150.9 308.2,152.8 308.8,146.9 309.3,152.1 309.9,153.1 310.5,153.0 311.0,154.3 311.6,155.1 312.2,155.2 312.7,156.9 313.3,161.2 313.9,157.1 314.4,159.4 315.0,158.5 315.6,155.5 316.1,156.6 316.7,154.5 317.3,154.1 317.8,156.0 318.4,157.6 319.0,155.6 319.5,161.5 320.1,157.2 320.7,158.6 321.2,158.1 321.8,158.5 322.4,160.2 322.9,157.8 323.5,161.1 324.1,162.4 324.6,158.7 325.2,162.0 325.8,157.9 326.3,162.1 326.9,156.4 327.5,154.9 328.0,152.4 328.6,153.6 329.2,153.8 329.7,154.6 330.3,156.7 330.9,159.5 331.4,161.7 332.0,164.8 332.6,159.1 333.2,159.6 333.7,158.8 334.3,156.5 334.9,154.9 335.4,154.9 336.0,157.4 336.6,154.7 337.1,153.1 337.7,153.9 338.3,153.1 338.8,151.0 339.4,150.6 340.0,147.2 340.5,148.5 341.1,149.0 341.7,147.9 342.2,145.7 342.8,150.2 343.4,147.8 343.9,152.1 344.5,147.0 345.1,150.7 345.6,148.9 346.2,150.8 346.8,152.8 347.3,151.2 347.9,153.2 348.5,154.1 349.0,154.5 349.6,154.9 350.2,155.9 350.7,155.6 351.3,155.7 351.9,154.1 352.4,152.7 353.0,153.6 353.6,153.6 354.1,155.2 354.7,153.1 355.3,151.8 355.8,154.1 356.4,152.3 357.0,152.8 357.5,153.4 358.1,155.4 358.7,151.1 359.2,153.9 359.8,156.9 360.4,156.9 360.9,156.3 361.5,158.0 362.1,161.1 362.6,158.1 363.2,158.3 363.8,155.6 364.3,151.6 364.9,149.9 365.5,147.3 366.0,147.5 366.6,148.4 367.2,152.5 367.7,151.9 368.3,152.5 368.9,152.3 369.4,157.5 370.0,156.2 370.6,155.2 371.1,154.2 371.7,152.1 372.3,155.9 372.8,157.4 373.4,155.0 374.0,159.2 374.5,157.5 375.1,153.0 375.7,152.2 376.2,152.1 376.8,152.3 377.4,151.1 377.9,148.8 378.5,153.0 379.1,151.3 379.6,152.4 380.2,152.3 380.8,150.3 381.3,151.0 381.9,153.0 382.5,154.2 383.0,152.6 383.6,153.7 384.2,154.4 384.7,153.6 385.3,154.7 385.9,150.3 386.4,153.6 387.0,151.7 387.6,151.4 388.1,151.5 388.7,151.3 389.3,153.0 389.9,150.4 390.4,147.1 391.0,149.1 391.6,147.7 392.1,149.2 392.7,147.5 393.3,146.0 393.8,144.8 394.4,144.4 395.0,142.2 395.5,143.2 396.1,144.3 396.7,147.8 397.2,147.7 397.8,150.4 398.4,153.2 398.9,154.9 399.5,159.3 400.1,159.4 400.6,159.3 401.2,163.3 401.8,165.8 402.3,165.2 402.9,164.4 403.5,159.3 404.0,158.1 404.6,154.8 405.2,154.3 405.7,152.3 406.3,151.9 406.9,150.2 407.4,151.3 408.0,150.8 408.6,151.3 409.1,150.7 409.7,155.7 410.3,158.7 410.8,156.0 411.4,157.5 412.0,154.7 412.5,155.1 413.1,156.3 413.7,159.0 414.2,155.5 414.8,156.4 415.4,161.1 415.9,155.9 416.5,160.4 417.1,160.8 417.6,159.9 418.2,160.8 418.8,165.1 419.3,160.2 419.9,162.7 420.5,163.8 421.0,164.3 421.6,164.5 422.2,169.2 422.7,166.6 423.3,162.2 423.9,163.9 424.4,164.3 425.0,164.2 425.6,160.4 426.1,162.4 426.7,163.0 427.3,161.5 427.8,161.5 428.4,157.5 429.0,162.6 429.5,159.6 430.1,162.7 430.7,165.5 431.2,161.1 431.8,160.9 432.4,165.5 432.9,165.1 433.5,165.1 434.1,164.9 434.6,169.6 435.2,165.2 435.8,162.8 436.3,163.5 436.9,162.3 437.5,164.4 438.0,162.5 438.6,160.1 439.2,163.0 439.7,160.8 440.3,163.0 440.9,166.2 441.4,165.0 442.0,166.7 442.6,170.0 443.1,172.1 443.7,170.1 444.3,169.0 444.8,167.1 445.4,167.2 446.0,166.7 446.6,163.1 447.1,162.1 447.7,163.7 448.3,163.8 448.8,166.5 449.4,167.8 450.0,168.2 450.5,167.9 451.1,167.8 451.7,171.3 452.2,168.9 452.8,164.8 453.4,164.8 453.9,168.6 454.5,166.5 455.1,163.2 455.6,163.3 456.2,157.8 456.8,159.8 457.3,160.0 457.9,155.3 458.5,158.9 459.0,162.4 459.6,164.3 460.2,163.1 460.7,163.1 461.3,163.2 461.9,157.1 462.4,154.2 463.0,154.8 463.6,156.0 464.1,160.2 464.7,161.8 465.3,162.8 465.8,169.5 466.4,165.6 467.0,167.3 467.5,167.2 468.1,168.2 468.7,169.2 469.2,171.6 469.8,172.9 470.4,173.0 470.9,175.6 471.5,174.8 472.1,174.7 472.6,174.7 473.2,173.1 473.8,176.1 474.3,176.3 474.9,169.3 475.5,171.9 476.0,169.3 476.6,165.3 477.2,168.7 477.7,165.3 478.3,164.9 478.9,163.6 479.4,167.5 480.0,169.1 480.6,167.8 481.1,168.9 481.7,167.6 482.3,167.9 482.8,166.9 483.4,167.6 484.0,166.1 484.5,167.4 485.1,168.4 485.7,166.6 486.2,166.5 486.8,168.5 487.4,159.5 487.9,162.0 488.5,160.6 489.1,159.2 489.6,156.6 490.2,158.0 490.8,155.8 491.3,156.3 491.9,158.2 492.5,158.9 493.0,157.4 493.6,163.8 494.2,162.5 494.7,161.4 495.3,162.6 495.9,161.4 496.4,160.5 497.0,165.9 497.6,161.1 498.1,164.0 498.7,165.4 499.3,165.7 499.8,165.0 500.4,161.9 501.0,160.1 501.5,159.6 502.1,162.4 502.7,161.3 503.3,159.6 503.8,157.4 504.4,161.4 505.0,159.7 505.5,160.6 506.1,161.2 506.7,162.4 507.2,162.1 507.8,163.2 508.4,163.8 508.9,163.4 509.5,160.0 510.1,161.8 510.6,165.3 511.2,165.4 511.8,170.3 512.3,167.3 512.9,168.4 513.5,171.7 514.0,172.1 514.6,170.1 515.2,171.5 515.7,169.7 516.3,170.2 516.9,173.3 517.4,169.5 518.0,173.5 518.6,174.7 519.1,175.5 519.7,175.5 520.3,175.5 520.8,170.9 521.4,172.1 522.0,171.8 522.5,173.5 523.1,169.6 523.7,170.0 524.2,169.8 524.8,172.7 525.4,167.0 525.9,166.9 526.5,168.9 527.1,162.7 527.6,166.2 528.2,165.1 528.8,163.7 529.3,167.6 529.9,167.3 530.5,170.6 531.0,171.4 531.6,174.2 532.2,172.2 532.7,174.0 533.3,174.0 533.9,175.9 534.4,178.8 535.0,176.3 535.6,180.8 536.1,178.5 536.7,178.0 537.3,177.5 537.8,178.0 538.4,175.5 539.0,174.9 539.5,175.5 540.1,174.1 540.7,172.7 541.2,172.4 541.8,172.4 542.4,171.2 542.9,171.3 543.5,171.5 544.1,175.0 544.6,173.5 545.2,178.5 545.8,175.3 546.3,178.8 546.9,182.2 547.5,177.5 548.0,179.6 548.6,178.2 549.2,175.6 549.7,174.1 550.3,174.8 550.9,175.5 551.4,172.4 552.0,167.9 552.6,166.2 553.1,166.4 553.7,166.9 554.3,166.7 554.8,168.9 555.4,171.8 556.0,171.5 556.5,173.5 557.1,173.2 557.7,170.6 558.2,173.8 558.8,173.2 559.4,173.7 560.0,172.7 560.5,174.7 561.1,178.9 561.7,179.6 562.2,181.3 562.8,176.9 563.4,178.3 563.9,176.8 564.5,177.9 565.1,175.1 565.6,176.2 566.2,176.6 566.8,175.6 567.3,170.6 567.9,174.0 568.5,172.8 569.0,168.9 569.6,167.4 570.2,167.7 570.7,167.9 571.3,165.1 571.9,163.4 572.4,165.4 573.0,165.2 573.6,168.4 574.1,161.5 574.7,167.1 575.3,165.4 575.8,164.6 576.4,168.0 577.0,167.8 577.5,170.4 578.1,168.2 578.7,170.4 579.2,169.8 579.8,169.5 580.4,172.9 580.9,172.5 581.5,174.9 582.1,177.3 582.6,174.1 583.2,173.8 583.8,173.3 584.3,169.6 584.9,171.6 585.5,170.1 586.0,169.6 586.6,166.6 587.2,164.3 587.7,168.6 588.3,170.6 588.9,172.8 589.4,174.3 590.0,176.6 590.6,175.1 591.1,175.6 591.7,174.1 592.3,176.6 592.8,176.2 593.4,177.9 594.0,174.4 594.5,172.0 595.1,176.4 595.7,173.0 596.2,173.8 596.8,173.2 597.4,171.9 597.9,175.1 598.5,174.6 599.1,173.4 599.6,175.7 600.2,175.8 600.8,177.5 601.3,176.2 601.9,174.9 602.5,174.8 603.0,175.0 603.6,175.0 604.2,173.0 604.7,174.8 605.3,175.8 605.9,177.9 606.4,175.0 607.0,168.2 607.6,172.9 608.1,174.1 608.7,175.5 609.3,178.9 609.8,178.7 610.4,174.6 611.0,179.2 611.5,179.6 612.1,179.6 612.7,180.0 613.2,174.7 613.8,176.6 614.4,170.1 614.9,172.1 615.5,171.4 616.1,171.6 616.7,165.5 617.2,162.3 617.8,163.1 618.4,159.8 618.9,162.1 619.5,159.0 620.1,159.7 620.6,163.6 621.2,162.5 621.8,165.3 622.3,162.9 622.9,168.4 623.5,165.3 624.0,168.5 624.6,165.0 625.2,165.1 625.7,167.8 626.3,167.1 626.9,169.5 627.4,166.7 628.0,167.4 628.6,167.6 629.1,171.5 629.7,165.5 630.3,169.8 630.8,167.6 631.4,169.8 632.0,169.5 632.5,173.3 633.1,168.3 633.7,168.2 634.2,170.2 634.8,167.6 635.4,171.0 635.9,170.6 636.5,169.2 637.1,172.1 637.6,171.4 638.2,174.3 638.8,175.1 639.3,178.5 639.9,175.7 640.5,173.5 641.0,173.1 641.6,176.6 642.2,173.3 642.7,177.9" fill="none" stroke="#1863bd" stroke-width="2.8" stroke-linejoin="round" stroke-linecap="round"/>
<polyline points="76.3,345.1 76.9,332.9 77.4,331.1 78.0,324.9 78.6,319.9 79.1,319.4 79.7,316.5 80.3,318.2 80.8,316.8 81.4,322.6 82.0,317.1 82.5,316.1 83.1,316.4 83.7,315.8 84.2,315.3 84.8,315.6 85.4,316.0 85.9,314.5 86.5,315.3 87.1,312.5 87.6,313.0 88.2,314.5 88.8,312.5 89.3,310.7 89.9,310.0 90.5,311.0 91.0,312.4 91.6,308.0 92.2,307.3 92.7,307.7 93.3,302.8 93.9,303.0 94.4,303.6 95.0,303.2 95.6,301.9 96.1,301.8 96.7,295.9 97.3,301.6 97.8,298.2 98.4,296.3 99.0,298.4 99.5,297.8 100.1,295.1 100.7,293.6 101.2,294.4 101.8,293.6 102.4,294.4 102.9,291.9 103.5,289.8 104.1,290.8 104.6,289.7 105.2,289.1 105.8,290.5 106.4,289.5 106.9,288.8 107.5,288.0 108.1,288.3 108.6,284.0 109.2,287.9 109.8,287.3 110.3,283.3 110.9,285.4 111.5,283.1 112.0,284.2 112.6,278.7 113.2,279.0 113.7,280.8 114.3,279.8 114.9,273.0 115.4,275.0 116.0,275.8 116.6,275.6 117.1,279.7 117.7,275.0 118.3,277.5 118.8,275.8 119.4,280.2 120.0,277.6 120.5,277.9 121.1,276.6 121.7,281.7 122.2,281.0 122.8,281.6 123.4,280.9 123.9,279.0 124.5,276.7 125.1,275.2 125.6,274.3 126.2,276.4 126.8,271.9 127.3,271.9 127.9,271.2 128.5,271.6 129.0,270.9 129.6,268.4 130.2,268.4 130.7,271.0 131.3,273.0 131.9,272.8 132.4,271.6 133.0,269.1 133.6,268.6 134.1,267.9 134.7,268.9 135.3,264.6 135.8,265.2 136.4,264.8 137.0,265.1 137.5,264.7 138.1,268.0 138.7,266.3 139.2,265.3 139.8,260.1 140.4,263.2 140.9,262.5 141.5,265.7 142.1,262.7 142.6,268.8 143.2,269.3 143.8,265.8 144.3,266.8 144.9,267.8 145.5,269.0 146.0,269.8 146.6,271.5 147.2,267.7 147.7,268.0 148.3,265.7 148.9,267.7 149.4,265.9 150.0,266.2 150.6,262.7 151.1,264.9 151.7,264.4 152.3,269.2 152.8,268.6 153.4,268.4 154.0,269.5 154.5,271.3 155.1,270.5 155.7,269.6 156.2,270.9 156.8,274.9 157.4,271.8 157.9,272.1 158.5,271.6 159.1,271.9 159.6,275.1 160.2,275.3 160.8,274.3 161.3,275.8 161.9,275.7 162.5,277.1 163.1,273.9 163.6,275.7 164.2,277.5 164.8,275.8 165.3,275.2 165.9,273.6 166.5,273.7 167.0,276.1 167.6,273.8 168.2,273.8 168.7,274.4 169.3,274.1 169.9,275.2 170.4,268.5 171.0,272.4 171.6,270.1 172.1,271.3 172.7,271.7 173.3,271.8 173.8,272.2 174.4,270.7 175.0,272.8 175.5,271.3 176.1,272.4 176.7,274.4 177.2,273.2 177.8,277.7 178.4,275.8 178.9,276.5 179.5,272.8 180.1,270.8 180.6,270.6 181.2,270.9 181.8,268.1 182.3,270.1 182.9,269.9 183.5,272.5 184.0,269.6 184.6,272.3 185.2,269.5 185.7,269.1 186.3,269.4 186.9,268.5 187.4,270.7 188.0,272.4 188.6,271.1 189.1,272.3 189.7,273.9 190.3,271.0 190.8,271.2 191.4,270.4 192.0,267.6 192.5,270.9 193.1,267.3 193.7,270.5 194.2,269.6 194.8,271.1 195.4,269.2 195.9,267.4 196.5,269.1 197.1,267.7 197.6,268.8 198.2,268.4 198.8,268.8 199.3,269.6 199.9,269.1 200.5,270.2 201.0,267.7 201.6,270.3 202.2,267.8 202.7,270.3 203.3,269.6 203.9,264.5 204.4,266.2 205.0,265.4 205.6,262.2 206.1,263.9 206.7,262.4 207.3,261.0 207.8,262.7 208.4,261.7 209.0,262.5 209.5,260.5 210.1,262.9 210.7,263.1 211.2,260.5 211.8,261.9 212.4,263.6 212.9,262.5 213.5,267.6 214.1,265.4 214.6,263.6 215.2,264.5 215.8,265.2 216.3,269.5 216.9,265.7 217.5,265.2 218.0,265.1 218.6,263.6 219.2,266.6 219.8,262.5 220.3,263.7 220.9,263.5 221.5,263.8 222.0,260.7 222.6,265.4 223.2,261.3 223.7,261.0 224.3,260.0 224.9,260.2 225.4,262.1 226.0,263.0 226.6,263.0 227.1,264.2 227.7,263.5 228.3,262.3 228.8,265.2 229.4,265.1 230.0,264.5 230.5,267.3 231.1,269.3 231.7,268.0 232.2,267.6 232.8,270.0 233.4,272.1 233.9,270.1 234.5,271.1 235.1,271.9 235.6,275.1 236.2,271.6 236.8,276.4 237.3,278.8 237.9,274.8 238.5,276.9 239.0,272.9 239.6,268.8 240.2,268.8 240.7,264.3 241.3,264.2 241.9,267.0 242.4,261.0 243.0,263.3 243.6,259.2 244.1,260.0 244.7,258.1 245.3,253.9 245.8,256.4 246.4,257.8 247.0,257.1 247.5,257.2 248.1,260.2 248.7,259.0 249.2,256.9 249.8,258.3 250.4,260.6 250.9,257.8 251.5,259.7 252.1,260.7 252.6,257.7 253.2,256.3 253.8,256.3 254.3,258.4 254.9,259.0 255.5,257.9 256.0,259.2 256.6,258.1 257.2,258.8 257.7,258.0 258.3,259.1 258.9,257.6 259.4,257.5 260.0,260.5 260.6,259.3 261.1,259.3 261.7,261.0 262.3,259.5 262.8,264.9 263.4,261.7 264.0,258.6 264.5,260.4 265.1,260.0 265.7,259.0 266.2,261.3 266.8,259.2 267.4,255.9 267.9,262.3 268.5,260.8 269.1,264.5 269.6,261.3 270.2,260.7 270.8,263.7 271.3,257.4 271.9,257.9 272.5,258.4 273.0,255.5 273.6,256.2 274.2,257.4 274.7,259.6 275.3,257.9 275.9,260.0 276.5,259.1 277.0,260.7 277.6,255.0 278.2,253.0 278.7,253.4 279.3,251.4 279.9,251.6 280.4,251.6 281.0,252.5 281.6,249.8 282.1,250.9 282.7,247.7 283.3,249.2 283.8,253.3 284.4,249.7 285.0,249.2 285.5,249.0 286.1,251.9 286.7,251.4 287.2,249.4 287.8,252.7 288.4,252.5 288.9,253.5 289.5,251.2 290.1,255.0 290.6,253.1 291.2,252.4 291.8,251.1 292.3,251.6 292.9,252.4 293.5,249.4 294.0,251.2 294.6,250.0 295.2,251.8 295.7,251.9 296.3,250.7 296.9,248.2 297.4,253.1 298.0,253.9 298.6,253.3 299.1,254.6 299.7,253.3 300.3,253.8 300.8,253.6 301.4,256.2 302.0,256.0 302.5,254.4 303.1,252.3 303.7,254.1 304.2,256.2 304.8,253.7 305.4,251.8 305.9,254.2 306.5,253.6 307.1,252.1 307.6,251.3 308.2,252.1 308.8,251.0 309.3,252.0 309.9,250.7 310.5,254.6 311.0,252.9 311.6,256.0 312.2,251.4 312.7,255.9 313.3,256.9 313.9,255.3 314.4,256.8 315.0,257.2 315.6,256.7 316.1,254.7 316.7,254.7 317.3,256.0 317.8,256.7 318.4,255.2 319.0,255.4 319.5,255.3 320.1,256.0 320.7,253.2 321.2,253.1 321.8,254.3 322.4,253.0 322.9,254.1 323.5,255.8 324.1,255.5 324.6,252.5 325.2,255.5 325.8,250.4 326.3,253.4 326.9,249.6 327.5,249.5 328.0,251.4 328.6,249.9 329.2,251.3 329.7,253.9 330.3,257.2 330.9,257.9 331.4,260.3 332.0,261.8 332.6,259.1 333.2,258.0 333.7,257.7 334.3,259.3 334.9,258.9 335.4,259.2 336.0,255.9 336.6,255.2 337.1,256.7 337.7,254.2 338.3,255.4 338.8,253.9 339.4,250.7 340.0,250.6 340.5,250.5 341.1,253.6 341.7,254.5 342.2,250.0 342.8,249.1 343.4,245.5 343.9,248.7 344.5,247.1 345.1,245.0 345.6,248.9 346.2,246.1 346.8,250.1 347.3,251.4 347.9,249.6 348.5,253.4 349.0,255.0 349.6,250.4 350.2,250.4 350.7,253.2 351.3,252.5 351.9,250.4 352.4,250.9 353.0,250.9 353.6,250.3 354.1,251.7 354.7,250.4 355.3,253.0 355.8,251.5 356.4,250.0 357.0,249.5 357.5,249.0 358.1,247.2 358.7,243.4 359.2,246.1 359.8,244.0 360.4,245.7 360.9,243.9 361.5,244.1 362.1,243.3 362.6,245.8 363.2,243.6 363.8,241.4 364.3,242.1 364.9,241.3 365.5,242.4 366.0,241.5 366.6,242.5 367.2,244.0 367.7,240.1 368.3,240.5 368.9,239.9 369.4,241.6 370.0,240.1 370.6,241.6 371.1,244.0 371.7,245.2 372.3,245.0 372.8,246.1 373.4,245.9 374.0,247.5 374.5,247.6 375.1,244.9 375.7,243.8 376.2,243.5 376.8,240.4 377.4,240.9 377.9,242.0 378.5,244.1 379.1,244.2 379.6,243.4 380.2,247.9 380.8,248.6 381.3,245.6 381.9,247.9 382.5,248.5 383.0,249.3 383.6,246.2 384.2,250.5 384.7,246.9 385.3,250.2 385.9,248.0 386.4,248.4 387.0,248.0 387.6,249.1 388.1,246.7 388.7,247.4 389.3,245.9 389.9,243.6 390.4,246.5 391.0,244.2 391.6,242.6 392.1,244.2 392.7,239.7 393.3,240.4 393.8,243.3 394.4,241.8 395.0,237.4 395.5,237.0 396.1,240.6 396.7,244.3 397.2,242.6 397.8,243.3 398.4,246.1 398.9,245.3 399.5,248.3 400.1,250.3 400.6,250.0 401.2,250.3 401.8,247.5 402.3,248.0 402.9,245.6 403.5,248.2 404.0,250.1 404.6,243.8 405.2,241.3 405.7,243.7 406.3,245.6 406.9,247.0 407.4,247.2 408.0,245.6 408.6,246.6 409.1,250.4 409.7,246.6 410.3,249.2 410.8,247.1 411.4,248.1 412.0,248.0 412.5,247.3 413.1,247.4 413.7,244.2 414.2,245.9 414.8,244.9 415.4,244.2 415.9,244.1 416.5,239.9 417.1,238.5 417.6,239.4 418.2,241.0 418.8,241.3 419.3,239.0 419.9,242.3 420.5,241.0 421.0,240.9 421.6,239.7 422.2,242.3 422.7,243.3 423.3,239.1 423.9,243.6 424.4,244.4 425.0,243.5 425.6,243.2 426.1,246.5 426.7,245.7 427.3,242.9 427.8,245.1 428.4,244.8 429.0,245.5 429.5,243.0 430.1,249.0 430.7,246.8 431.2,247.6 431.8,245.8 432.4,246.3 432.9,244.3 433.5,242.6 434.1,244.2 434.6,244.7 435.2,242.1 435.8,244.7 436.3,241.3 436.9,240.0 437.5,242.2 438.0,237.9 438.6,239.9 439.2,238.5 439.7,239.8 440.3,237.6 440.9,238.7 441.4,242.6 442.0,242.6 442.6,243.2 443.1,242.1 443.7,242.5 444.3,238.4 444.8,238.8 445.4,240.0 446.0,238.8 446.6,239.3 447.1,239.5 447.7,238.7 448.3,237.3 448.8,240.7 449.4,239.8 450.0,239.9 450.5,238.4 451.1,237.2 451.7,235.7 452.2,238.3 452.8,235.5 453.4,237.7 453.9,239.4 454.5,240.3 455.1,238.7 455.6,236.5 456.2,237.6 456.8,235.2 457.3,236.8 457.9,234.5 458.5,234.2 459.0,235.7 459.6,234.1 460.2,236.6 460.7,232.6 461.3,231.6 461.9,234.8 462.4,235.2 463.0,233.1 463.6,233.7 464.1,231.4 464.7,232.4 465.3,235.9 465.8,235.7 466.4,237.0 467.0,236.2 467.5,240.2 468.1,241.9 468.7,242.8 469.2,244.3 469.8,243.1 470.4,248.1 470.9,245.0 471.5,245.3 472.1,247.2 472.6,243.1 473.2,246.4 473.8,246.4 474.3,246.5 474.9,248.2 475.5,247.8 476.0,243.7 476.6,246.1 477.2,247.4 477.7,246.0 478.3,243.4 478.9,241.6 479.4,244.4 480.0,243.3 480.6,242.4 481.1,239.9 481.7,245.2 482.3,238.3 482.8,241.0 483.4,245.8 484.0,242.3 484.5,242.4 485.1,240.0 485.7,244.1 486.2,239.2 486.8,241.0 487.4,240.3 487.9,238.4 488.5,240.5 489.1,236.9 489.6,237.7 490.2,238.0 490.8,237.5 491.3,238.6 491.9,238.8 492.5,237.5 493.0,237.5 493.6,237.8 494.2,238.4 494.7,241.6 495.3,240.1 495.9,241.2 496.4,240.3 497.0,239.9 497.6,242.3 498.1,239.0 498.7,240.1 499.3,243.0 499.8,239.7 500.4,240.3 501.0,236.7 501.5,237.8 502.1,235.8 502.7,235.6 503.3,234.2 503.8,234.9 504.4,237.0 505.0,235.0 505.5,235.6 506.1,234.2 506.7,234.4 507.2,234.0 507.8,232.1 508.4,235.4 508.9,239.1 509.5,238.0 510.1,237.5 510.6,240.8 511.2,238.9 511.8,238.6 512.3,239.2 512.9,239.6 513.5,240.7 514.0,244.2 514.6,241.4 515.2,240.7 515.7,241.7 516.3,242.9 516.9,241.8 517.4,245.6 518.0,246.8 518.6,247.4 519.1,247.0 519.7,242.5 520.3,240.4 520.8,244.3 521.4,242.2 522.0,237.2 522.5,240.5 523.1,240.9 523.7,241.8 524.2,239.8 524.8,238.4 525.4,239.5 525.9,239.3 526.5,238.2 527.1,235.6 527.6,233.4 528.2,236.6 528.8,236.9 529.3,240.2 529.9,240.2 530.5,239.1 531.0,238.8 531.6,239.1 532.2,241.0 532.7,237.7 533.3,240.1 533.9,239.8 534.4,238.5 535.0,239.4 535.6,236.4 536.1,239.3 536.7,237.2 537.3,238.2 537.8,238.3 538.4,241.4 539.0,239.1 539.5,240.5 540.1,238.7 540.7,240.9 541.2,240.9 541.8,237.9 542.4,239.1 542.9,236.4 543.5,239.9 544.1,237.7 544.6,236.1 545.2,242.6 545.8,241.7 546.3,240.0 546.9,241.0 547.5,240.1 548.0,242.4 548.6,241.1 549.2,245.3 549.7,243.4 550.3,240.1 550.9,240.3 551.4,242.9 552.0,241.0 552.6,243.1 553.1,242.9 553.7,242.7 554.3,244.0 554.8,245.8 555.4,247.3 556.0,247.0 556.5,244.6 557.1,245.2 557.7,242.0 558.2,244.2 558.8,240.5 559.4,242.6 560.0,239.4 560.5,240.0 561.1,242.4 561.7,242.5 562.2,239.3 562.8,241.1 563.4,242.4 563.9,242.6 564.5,240.2 565.1,241.6 565.6,239.7 566.2,241.3 566.8,240.2 567.3,237.4 567.9,235.4 568.5,237.7 569.0,238.6 569.6,236.5 570.2,236.9 570.7,234.8 571.3,234.1 571.9,237.2 572.4,235.8 573.0,236.6 573.6,233.3 574.1,236.8 574.7,234.8 575.3,237.6 575.8,235.1 576.4,235.1 577.0,235.0 577.5,238.9 578.1,237.4 578.7,238.0 579.2,236.9 579.8,236.5 580.4,240.6 580.9,235.6 581.5,236.4 582.1,237.2 582.6,238.7 583.2,236.5 583.8,237.7 584.3,236.9 584.9,237.4 585.5,235.4 586.0,237.7 586.6,235.2 587.2,237.7 587.7,233.2 588.3,236.2 588.9,234.4 589.4,235.0 590.0,238.8 590.6,237.5 591.1,240.8 591.7,239.0 592.3,243.9 592.8,242.8 593.4,241.2 594.0,242.8 594.5,243.5 595.1,241.1 595.7,242.2 596.2,243.8 596.8,241.8 597.4,240.1 597.9,240.0 598.5,240.9 599.1,238.3 599.6,234.9 600.2,237.8 600.8,236.9 601.3,240.4 601.9,237.5 602.5,234.4 603.0,233.1 603.6,236.0 604.2,233.7 604.7,234.4 605.3,236.2 605.9,236.7 606.4,236.8 607.0,236.7 607.6,239.0 608.1,240.2 608.7,234.9 609.3,242.1 609.8,238.5 610.4,241.0 611.0,238.3 611.5,240.9 612.1,241.4 612.7,241.4 613.2,242.5 613.8,241.2 614.4,238.3 614.9,238.7 615.5,238.6 616.1,237.3 616.7,235.2 617.2,233.0 617.8,232.8 618.4,230.3 618.9,230.2 619.5,233.5 620.1,229.9 620.6,229.5 621.2,227.8 621.8,230.8 622.3,231.7 622.9,228.2 623.5,229.8 624.0,230.7 624.6,235.2 625.2,234.2 625.7,232.2 626.3,234.4 626.9,234.3 627.4,234.4 628.0,233.5 628.6,232.7 629.1,232.5 629.7,233.7 630.3,233.2 630.8,232.2 631.4,236.6 632.0,233.4 632.5,232.4 633.1,231.9 633.7,235.0 634.2,236.4 634.8,235.7 635.4,236.9 635.9,233.3 636.5,235.2 637.1,234.8 637.6,236.8 638.2,237.4 638.8,234.1 639.3,242.0 639.9,235.6 640.5,239.0 641.0,239.9 641.6,239.9 642.2,239.6 642.7,234.9" fill="none" stroke="#e6611f" stroke-width="2.8" stroke-linejoin="round" stroke-linecap="round"/>
<polyline points="760.5,344.0 761.1,340.5 761.7,338.8 762.3,332.9 762.9,326.1 763.5,327.1 764.1,324.8 764.7,324.5 765.3,319.6 765.9,321.4 766.5,319.8 767.1,321.3 767.7,317.4 768.3,315.5 768.9,311.0 769.5,315.5 770.1,307.7 770.7,311.5 771.3,309.1 771.9,308.3 772.5,308.4 773.1,308.2 773.7,309.2 774.3,308.1 774.9,309.5 775.5,304.2 776.2,307.3 776.8,307.6 777.4,310.2 778.0,306.5 778.6,310.0 779.2,311.0 779.8,309.9 780.4,316.0 781.0,316.1 781.6,318.5 782.2,317.1 782.8,311.6 783.4,310.7 784.0,304.7 784.6,304.2 785.2,301.9 785.8,297.8 786.4,297.5 787.0,297.9 787.6,298.2 788.2,298.1 788.8,297.7 789.4,301.4 790.0,297.0 790.6,296.5 791.2,298.5 791.8,295.4 792.4,295.7 793.0,296.6 793.6,298.4 794.2,297.1 794.8,303.0 795.4,302.0 796.0,299.6 796.6,296.6 797.2,292.1 797.8,289.2 798.4,283.3 799.0,280.5 799.6,278.8 800.2,273.3 800.8,273.7 801.4,268.9 802.0,265.6 802.6,268.9 803.2,265.5 803.8,264.2 804.4,268.8 805.0,264.2 805.6,267.1 806.3,264.2 806.9,266.5 807.5,264.8 808.1,266.3 808.7,272.8 809.3,281.2 809.9,289.6 810.5,298.2 811.1,296.1 811.7,302.7 812.3,303.0 812.9,305.9 813.5,299.5 814.1,295.1 814.7,292.5 815.3,290.3 815.9,291.5 816.5,289.4 817.1,291.5 817.7,289.5 818.3,291.1 818.9,294.5 819.5,293.7 820.1,291.6 820.7,291.3 821.3,290.3 821.9,289.4 822.5,288.3 823.1,285.0 823.7,283.0 824.3,279.7 824.9,279.3 825.5,273.3 826.1,276.7 826.7,274.5 827.3,272.9 827.9,272.9 828.5,270.0 829.1,268.3 829.7,268.8 830.3,264.8 830.9,261.9 831.5,262.7 832.1,262.7 832.7,270.2 833.3,269.8 833.9,271.1 834.5,275.1 835.1,274.1 835.7,270.6 836.4,271.9 837.0,272.5 837.6,275.0 838.2,273.8 838.8,276.0 839.4,279.7 840.0,279.5 840.6,280.3 841.2,280.6 841.8,276.8 842.4,277.9 843.0,274.6 843.6,279.5 844.2,282.8 844.8,279.4 845.4,284.1 846.0,283.5 846.6,283.7 847.2,287.3 847.8,291.2 848.4,292.4 849.0,296.4 849.6,300.1 850.2,303.2 850.8,305.1 851.4,304.6 852.0,306.9 852.6,303.9 853.2,305.1 853.8,305.1 854.4,304.1 855.0,302.8 855.6,301.8 856.2,299.6 856.8,298.6 857.4,296.4 858.0,295.9 858.6,291.6 859.2,293.0 859.8,289.3 860.4,283.3 861.0,285.3 861.6,287.4 862.2,284.1 862.8,284.2 863.4,284.2 864.0,288.1 864.6,289.2 865.2,290.1 865.8,291.7 866.5,294.5 867.1,294.6 867.7,290.5 868.3,292.5 868.9,291.5 869.5,292.7 870.1,296.1 870.7,295.9 871.3,292.3 871.9,301.2 872.5,302.0 873.1,301.0 873.7,301.7 874.3,303.1 874.9,299.7 875.5,301.4 876.1,300.2 876.7,300.2 877.3,300.7 877.9,301.6 878.5,305.7 879.1,306.5 879.7,306.2 880.3,306.3 880.9,306.3 881.5,310.2 882.1,312.8 882.7,308.2 883.3,313.2 883.9,307.2 884.5,311.2 885.1,310.8 885.7,308.0 886.3,308.0 886.9,310.6 887.5,313.0 888.1,312.1 888.7,315.2 889.3,312.1 889.9,316.8 890.5,315.3 891.1,316.8 891.7,318.2 892.3,319.3 892.9,322.4 893.5,323.4 894.1,322.2 894.7,320.9 895.3,317.9 895.9,318.6 896.6,318.7 897.2,317.9 897.8,318.8 898.4,318.9 899.0,320.7 899.6,318.5 900.2,318.2 900.8,318.5 901.4,314.7 902.0,309.1 902.6,313.1 903.2,312.6 903.8,315.3 904.4,314.2 905.0,317.6 905.6,315.4 906.2,314.8 906.8,314.4 907.4,316.1 908.0,317.6 908.6,321.0 909.2,320.9 909.8,322.2 910.4,324.7 911.0,327.1 911.6,326.9 912.2,329.0 912.8,325.3 913.4,325.6 914.0,321.2 914.6,321.5 915.2,319.1 915.8,319.3 916.4,316.3 917.0,314.1 917.6,314.8 918.2,312.2 918.8,309.7 919.4,310.1 920.0,309.1 920.6,316.5 921.2,312.3 921.8,312.2 922.4,307.8 923.0,306.7 923.6,307.6 924.2,306.8 924.8,306.2 925.4,300.3 926.0,301.7 926.7,302.0 927.3,297.4 927.9,298.9 928.5,295.1 929.1,297.9 929.7,298.4 930.3,300.4 930.9,295.6 931.5,296.9 932.1,297.1 932.7,291.6 933.3,290.9 933.9,287.0 934.5,286.5 935.1,290.9 935.7,291.6 936.3,296.7 936.9,295.8 937.5,295.3 938.1,293.3 938.7,293.5 939.3,298.2 939.9,297.6 940.5,307.5 941.1,297.9 941.7,292.2 942.3,288.9 942.9,292.1 943.5,294.4 944.1,292.9 944.7,293.2 945.3,291.2 945.9,288.2 946.5,288.1 947.1,287.0 947.7,285.6 948.3,290.0 948.9,285.2 949.5,285.9 950.1,282.5 950.7,280.1 951.3,279.8 951.9,284.5 952.5,283.0 953.1,286.1 953.7,288.5 954.3,284.0 954.9,283.5 955.5,280.5 956.1,273.4 956.8,271.0 957.4,270.4 958.0,273.7 958.6,273.2 959.2,271.1 959.8,273.7 960.4,270.1 961.0,268.5 961.6,264.3 962.2,262.3 962.8,260.3 963.4,258.4 964.0,260.0 964.6,257.1 965.2,259.5 965.8,261.3 966.4,259.0 967.0,258.3 967.6,259.1 968.2,258.1 968.8,259.4 969.4,258.8 970.0,262.7 970.6,258.3 971.2,252.8 971.8,252.5 972.4,248.1 973.0,252.1 973.6,252.2 974.2,251.8 974.8,250.4 975.4,246.8 976.0,250.2 976.6,248.4 977.2,246.8 977.8,254.0 978.4,257.4 979.0,261.4 979.6,261.6 980.2,260.1 980.8,266.6 981.4,263.6 982.0,263.7 982.6,267.6 983.2,263.2 983.8,270.8 984.4,273.5 985.0,273.7 985.6,279.5 986.2,283.6 986.9,294.6 987.5,300.0 988.1,298.4 988.7,299.4 989.3,299.9 989.9,299.7 990.5,297.0 991.1,298.1 991.7,298.6 992.3,296.7 992.9,299.2 993.5,296.5 994.1,294.9 994.7,294.1 995.3,300.0 995.9,299.5 996.5,304.2 997.1,300.6 997.7,304.3 998.3,306.6 998.9,307.2 999.5,309.4 1000.1,304.7 1000.7,299.3 1001.3,292.8 1001.9,293.4 1002.5,294.9 1003.1,292.4 1003.7,293.4 1004.3,291.4 1004.9,293.4 1005.5,296.2 1006.1,304.2 1006.7,307.7 1007.3,310.5 1007.9,314.0 1008.5,311.2 1009.1,315.9 1009.7,314.0 1010.3,319.3 1010.9,317.5 1011.5,316.3 1012.1,313.3 1012.7,312.5 1013.3,307.6 1013.9,309.1 1014.5,310.5 1015.1,314.9 1015.7,315.5 1016.3,318.6 1017.0,322.9 1017.6,327.4 1018.2,325.7 1018.8,328.2 1019.4,330.9 1020.0,325.6 1020.6,330.8 1021.2,332.6 1021.8,328.6 1022.4,330.2 1023.0,325.7 1023.6,326.1 1024.2,322.5 1024.8,322.2 1025.4,319.0 1026.0,316.7 1026.6,315.6 1027.2,315.7 1027.8,315.7 1028.4,316.7 1029.0,316.0 1029.6,315.4 1030.2,315.5 1030.8,309.2 1031.4,312.6 1032.0,310.1 1032.6,308.7 1033.2,308.8 1033.8,311.6 1034.4,313.4 1035.0,317.3 1035.6,316.5 1036.2,321.5 1036.8,319.7 1037.4,321.1 1038.0,321.0 1038.6,316.1 1039.2,318.8 1039.8,319.7 1040.4,314.6 1041.0,316.4 1041.6,314.9 1042.2,316.7 1042.8,317.2 1043.4,316.3 1044.0,316.6 1044.6,316.3 1045.2,313.7 1045.8,316.6 1046.4,318.1 1047.1,319.1 1047.7,318.2 1048.3,322.3 1048.9,321.3 1049.5,314.4 1050.1,316.0 1050.7,318.5 1051.3,320.9 1051.9,322.2 1052.5,321.2 1053.1,322.2 1053.7,323.8 1054.3,321.9 1054.9,324.8 1055.5,324.1 1056.1,325.5 1056.7,325.4 1057.3,324.9 1057.9,325.5 1058.5,328.7 1059.1,329.5 1059.7,329.1 1060.3,332.2 1060.9,330.5 1061.5,330.5 1062.1,331.7 1062.7,330.5 1063.3,329.7 1063.9,331.3 1064.5,329.5 1065.1,328.9 1065.7,328.0 1066.3,326.4 1066.9,325.6 1067.5,322.2 1068.1,319.7 1068.7,315.7 1069.3,316.1 1069.9,314.1 1070.5,314.3 1071.1,315.5 1071.7,316.9 1072.3,316.0 1072.9,314.8 1073.5,315.8 1074.1,313.5 1074.7,309.5 1075.3,309.8 1075.9,309.8 1076.5,309.6 1077.2,312.6 1077.8,309.1 1078.4,307.7 1079.0,308.7 1079.6,305.8 1080.2,305.9 1080.8,308.5 1081.4,311.9 1082.0,313.8 1082.6,311.7 1083.2,308.9 1083.8,306.1 1084.4,306.8 1085.0,300.8 1085.6,300.2 1086.2,296.1 1086.8,297.1 1087.4,297.0 1088.0,298.4 1088.6,294.8 1089.2,306.2 1089.8,306.9 1090.4,313.5 1091.0,319.1 1091.6,315.0 1092.2,314.5 1092.8,313.9 1093.4,311.9 1094.0,309.9 1094.6,310.8 1095.2,309.0 1095.8,304.4 1096.4,307.3 1097.0,303.4 1097.6,299.5 1098.2,302.2 1098.8,306.7 1099.4,306.2 1100.0,304.5 1100.6,301.2 1101.2,302.7 1101.8,304.3 1102.4,303.0 1103.0,301.4 1103.6,300.6 1104.2,303.9 1104.8,302.8 1105.4,304.6 1106.0,307.1 1106.6,312.1 1107.3,311.3 1107.9,312.3 1108.5,308.1 1109.1,312.5 1109.7,313.3 1110.3,312.7 1110.9,308.6 1111.5,312.7 1112.1,314.7 1112.7,318.3 1113.3,317.2 1113.9,318.6 1114.5,319.1 1115.1,319.0 1115.7,316.4 1116.3,317.0 1116.9,318.0 1117.5,321.7 1118.1,323.2 1118.7,323.8 1119.3,321.6 1119.9,323.7 1120.5,322.9 1121.1,327.7 1121.7,324.2 1122.3,329.4 1122.9,328.3 1123.5,323.4 1124.1,327.9 1124.7,328.6 1125.3,322.9 1125.9,324.1 1126.5,320.3 1127.1,319.3 1127.7,317.5 1128.3,318.7 1128.9,319.4 1129.5,319.1 1130.1,319.2 1130.7,319.2 1131.3,317.6 1131.9,318.8 1132.5,312.6 1133.1,317.9 1133.7,314.1 1134.3,314.0 1134.9,313.8 1135.5,309.8 1136.1,317.1 1136.7,312.9 1137.4,317.4 1138.0,319.6 1138.6,323.1 1139.2,322.0 1139.8,320.5 1140.4,323.3 1141.0,319.3 1141.6,323.6 1142.2,323.8 1142.8,324.9 1143.4,319.7 1144.0,316.7 1144.6,313.0 1145.2,309.5 1145.8,307.0 1146.4,308.2 1147.0,303.9 1147.6,305.9 1148.2,303.4 1148.8,303.0 1149.4,301.3 1150.0,295.9 1150.6,298.4 1151.2,301.5 1151.8,304.2 1152.4,301.6 1153.0,297.2 1153.6,292.7 1154.2,290.4 1154.8,294.0 1155.4,295.6 1156.0,294.1 1156.6,296.3 1157.2,290.9 1157.8,289.7 1158.4,291.4 1159.0,286.0 1159.6,289.1 1160.2,291.0 1160.8,294.1 1161.4,297.8 1162.0,293.9 1162.6,295.5 1163.2,295.0 1163.8,294.1 1164.4,291.3 1165.0,288.3 1165.6,286.5 1166.2,288.1 1166.8,286.4 1167.5,285.2 1168.1,290.3 1168.7,291.7 1169.3,290.9 1169.9,292.3 1170.5,296.7 1171.1,295.9 1171.7,295.5 1172.3,294.6 1172.9,293.7 1173.5,292.6 1174.1,293.8 1174.7,292.6 1175.3,293.7 1175.9,295.9 1176.5,296.8 1177.1,298.3 1177.7,295.4 1178.3,299.8 1178.9,293.2 1179.5,293.0 1180.1,294.8 1180.7,291.7 1181.3,291.2 1181.9,292.2 1182.5,287.6 1183.1,293.2 1183.7,293.8 1184.3,297.0 1184.9,296.5 1185.5,296.2 1186.1,296.0 1186.7,294.4 1187.3,293.8 1187.9,292.5 1188.5,295.4 1189.1,290.1 1189.7,288.2 1190.3,288.3 1190.9,283.6 1191.5,278.6 1192.1,278.9 1192.7,280.0 1193.3,279.3 1193.9,280.1 1194.5,274.7 1195.1,274.4 1195.7,276.4 1196.3,275.9 1196.9,278.0 1197.6,278.9 1198.2,279.9 1198.8,279.4 1199.4,281.5 1200.0,281.4 1200.6,280.5 1201.2,279.2 1201.8,283.6 1202.4,283.6 1203.0,283.7 1203.6,283.9 1204.2,280.8 1204.8,283.9 1205.4,281.5 1206.0,279.6 1206.6,282.7 1207.2,280.3 1207.8,280.5 1208.4,280.1 1209.0,280.2 1209.6,273.6 1210.2,275.5 1210.8,278.3 1211.4,275.8 1212.0,271.5 1212.6,276.8 1213.2,278.6 1213.8,281.1 1214.4,281.7 1215.0,283.1 1215.6,285.5 1216.2,287.8 1216.8,288.5 1217.4,289.9 1218.0,289.7 1218.6,286.9 1219.2,289.5 1219.8,288.0 1220.4,286.5 1221.0,280.3 1221.6,283.6 1222.2,282.6 1222.8,279.8 1223.4,283.0 1224.0,281.3 1224.6,286.8 1225.2,286.8 1225.8,284.5 1226.4,285.8 1227.0,283.3 1227.7,282.4 1228.3,279.5 1228.9,281.5 1229.5,283.1 1230.1,284.1 1230.7,281.1 1231.3,285.7 1231.9,284.2 1232.5,280.4 1233.1,276.9 1233.7,274.9 1234.3,278.7 1234.9,282.7 1235.5,285.4 1236.1,286.9 1236.7,286.2 1237.3,286.3 1237.9,291.7 1238.5,292.0 1239.1,295.8 1239.7,290.1 1240.3,290.6 1240.9,289.0 1241.5,285.0 1242.1,287.6 1242.7,285.6 1243.3,285.1 1243.9,287.3 1244.5,291.9 1245.1,295.7 1245.7,292.0 1246.3,298.3 1246.9,297.9 1247.5,296.9 1248.1,296.0 1248.7,293.7 1249.3,291.6 1249.9,292.2 1250.5,289.1 1251.1,293.1 1251.7,291.6 1252.3,290.5 1252.9,290.3 1253.5,294.8 1254.1,293.7 1254.7,293.3 1255.3,290.8 1255.9,293.0 1256.5,291.1 1257.1,292.6 1257.8,291.5 1258.4,293.9 1259.0,298.0 1259.6,297.9 1260.2,298.0 1260.8,295.0 1261.4,293.1 1262.0,290.8 1262.6,287.2 1263.2,285.8 1263.8,288.7 1264.4,287.3 1265.0,288.1 1265.6,289.4 1266.2,290.0 1266.8,286.5 1267.4,293.8 1268.0,293.6 1268.6,297.1 1269.2,298.6 1269.8,294.5 1270.4,297.0 1271.0,300.8 1271.6,303.6 1272.2,302.6 1272.8,305.2 1273.4,308.7 1274.0,305.4 1274.6,306.1 1275.2,306.2 1275.8,302.9 1276.4,304.3 1277.0,302.2 1277.6,298.3 1278.2,299.3 1278.8,297.9 1279.4,297.3 1280.0,297.0 1280.6,297.0 1281.2,296.4 1281.8,296.0 1282.4,294.4 1283.0,294.2 1283.6,293.1 1284.2,293.4 1284.8,296.7 1285.4,292.3 1286.0,297.1 1286.6,295.5 1287.2,298.1 1287.9,300.3 1288.5,298.7 1289.1,300.9 1289.7,293.2 1290.3,291.8 1290.9,287.5 1291.5,287.9 1292.1,288.6 1292.7,289.5 1293.3,290.5 1293.9,293.1 1294.5,292.6 1295.1,292.0 1295.7,292.4 1296.3,293.9 1296.9,294.6 1297.5,296.9 1298.1,298.8 1298.7,296.1 1299.3,299.2 1299.9,297.1 1300.5,295.9 1301.1,297.3 1301.7,300.2 1302.3,300.0 1302.9,298.6 1303.5,300.7 1304.1,300.2 1304.7,293.5 1305.3,295.5 1305.9,293.5 1306.5,291.1 1307.1,291.9 1307.7,294.8 1308.3,293.9 1308.9,294.8 1309.5,299.6 1310.1,299.8 1310.7,300.1 1311.3,303.8 1311.9,301.4 1312.5,297.2 1313.1,295.7 1313.7,295.7 1314.3,296.1 1314.9,296.0 1315.5,294.8 1316.1,292.6 1316.7,289.8 1317.3,290.8 1318.0,286.4 1318.6,282.2 1319.2,281.7 1319.8,283.8 1320.4,283.7 1321.0,284.8 1321.6,282.3 1322.2,288.1 1322.8,282.0 1323.4,284.6 1324.0,287.2 1324.6,286.1 1325.2,283.7 1325.8,288.1 1326.4,291.0 1327.0,292.7 1327.6,290.8 1328.2,296.1 1328.8,291.5 1329.4,294.6 1330.0,293.7 1330.6,295.6 1331.2,297.6 1331.8,300.5 1332.4,298.2 1333.0,302.0 1333.6,304.0 1334.2,303.1 1334.8,304.1 1335.4,302.2 1336.0,299.6 1336.6,299.0 1337.2,299.8 1337.8,300.1 1338.4,302.8 1339.0,301.2 1339.6,299.0 1340.2,300.1 1340.8,300.3 1341.4,300.2 1342.0,305.2 1342.6,303.3 1343.2,298.5 1343.8,301.9 1344.4,306.9 1345.0,304.6 1345.6,306.5 1346.2,307.4 1346.8,305.3 1347.4,303.3 1348.1,302.2 1348.7,301.7 1349.3,298.5 1349.9,298.6 1350.5,299.6 1351.1,296.1 1351.7,294.7 1352.3,293.5 1352.9,293.0 1353.5,300.5 1354.1,297.8 1354.7,298.0 1355.3,294.6 1355.9,291.9 1356.5,297.1 1357.1,292.3 1357.7,296.0 1358.3,297.5 1358.9,299.5 1359.5,300.0 1360.1,298.6 1360.7,292.7 1361.3,299.3 1361.9,296.5" fill="none" stroke="#ec1c24" stroke-width="2.8" stroke-linejoin="round" stroke-linecap="round"/>
<polyline points="760.5,332.4 761.1,321.9 761.7,313.7 762.3,309.9 762.9,305.6 763.5,299.5 764.1,297.2 764.7,294.8 765.3,295.8 765.9,296.5 766.5,292.7 767.1,289.5 767.7,286.5 768.3,286.9 768.9,282.4 769.5,277.8 770.1,279.7 770.7,276.0 771.3,276.6 771.9,276.7 772.5,275.2 773.1,274.9 773.7,271.5 774.3,269.2 774.9,269.4 775.5,269.5 776.2,264.7 776.8,268.6 777.4,269.2 778.0,271.5 778.6,270.7 779.2,274.6 779.8,277.0 780.4,278.3 781.0,277.5 781.6,277.5 782.2,275.5 782.8,273.6 783.4,272.9 784.0,268.2 784.6,268.4 785.2,264.1 785.8,255.5 786.4,255.8 787.0,248.9 787.6,246.7 788.2,248.7 788.8,250.1 789.4,256.6 790.0,260.9 790.6,261.3 791.2,258.1 791.8,261.0 792.4,257.0 793.0,257.5 793.6,257.0 794.2,261.3 794.8,260.5 795.4,258.2 796.0,249.4 796.6,243.6 797.2,237.3 797.8,233.1 798.4,232.0 799.0,233.1 799.6,228.0 800.2,227.2 800.8,224.6 801.4,224.0 802.0,219.1 802.6,216.3 803.2,219.2 803.8,222.0 804.4,222.6 805.0,223.0 805.6,217.0 806.3,215.2 806.9,215.8 807.5,219.9 808.1,219.4 808.7,220.6 809.3,222.2 809.9,226.6 810.5,226.2 811.1,231.1 811.7,239.0 812.3,240.8 812.9,237.1 813.5,231.3 814.1,226.7 814.7,225.1 815.3,226.1 815.9,222.3 816.5,217.0 817.1,211.0 817.7,208.9 818.3,205.4 818.9,214.1 819.5,221.7 820.1,224.5 820.7,225.5 821.3,227.5 821.9,227.5 822.5,224.2 823.1,222.7 823.7,223.1 824.3,218.1 824.9,212.3 825.5,214.7 826.1,209.3 826.7,203.4 827.3,204.1 827.9,203.4 828.5,203.7 829.1,204.5 829.7,201.8 830.3,199.8 830.9,197.8 831.5,191.2 832.1,195.0 832.7,199.5 833.3,197.4 833.9,200.4 834.5,198.3 835.1,195.7 835.7,194.7 836.4,194.4 837.0,194.2 837.6,191.9 838.2,192.8 838.8,195.8 839.4,197.5 840.0,201.6 840.6,202.5 841.2,204.0 841.8,207.0 842.4,206.1 843.0,205.5 843.6,205.8 844.2,201.9 844.8,201.3 845.4,206.0 846.0,207.7 846.6,212.6 847.2,215.9 847.8,219.1 848.4,228.4 849.0,229.7 849.6,228.4 850.2,234.4 850.8,232.7 851.4,230.6 852.0,234.5 852.6,235.3 853.2,239.2 853.8,235.3 854.4,237.4 855.0,239.5 855.6,240.1 856.2,240.9 856.8,242.2 857.4,237.2 858.0,230.1 858.6,220.2 859.2,212.3 859.8,206.3 860.4,199.7 861.0,194.5 861.6,186.9 862.2,195.0 862.8,198.6 863.4,200.0 864.0,204.2 864.6,205.9 865.2,201.1 865.8,203.6 866.5,203.2 867.1,204.5 867.7,205.2 868.3,207.7 868.9,211.8 869.5,217.4 870.1,220.1 870.7,218.4 871.3,220.7 871.9,230.0 872.5,227.9 873.1,231.5 873.7,232.5 874.3,231.8 874.9,230.7 875.5,228.1 876.1,224.5 876.7,226.2 877.3,224.9 877.9,226.4 878.5,221.7 879.1,217.2 879.7,215.8 880.3,221.6 880.9,221.7 881.5,220.7 882.1,226.2 882.7,226.2 883.3,225.9 883.9,219.3 884.5,219.6 885.1,217.4 885.7,212.4 886.3,211.4 886.9,214.2 887.5,214.5 888.1,213.4 888.7,212.9 889.3,215.4 889.9,216.2 890.5,219.1 891.1,219.2 891.7,221.3 892.3,221.0 892.9,225.9 893.5,221.9 894.1,224.7 894.7,224.9 895.3,222.0 895.9,224.0 896.6,219.2 897.2,223.2 897.8,225.1 898.4,220.7 899.0,223.7 899.6,228.4 900.2,226.4 900.8,223.3 901.4,222.4 902.0,220.3 902.6,223.4 903.2,224.0 903.8,223.5 904.4,223.4 905.0,223.6 905.6,225.0 906.2,222.8 906.8,222.3 907.4,221.7 908.0,219.4 908.6,220.1 909.2,221.1 909.8,219.3 910.4,217.0 911.0,214.4 911.6,214.0 912.2,209.8 912.8,207.3 913.4,205.4 914.0,206.2 914.6,205.7 915.2,206.2 915.8,203.8 916.4,201.6 917.0,198.2 917.6,198.3 918.2,200.8 918.8,203.4 919.4,203.9 920.0,206.4 920.6,209.8 921.2,205.1 921.8,199.4 922.4,198.7 923.0,194.0 923.6,193.3 924.2,189.0 924.8,192.6 925.4,190.1 926.0,186.8 926.7,184.9 927.3,183.5 927.9,181.2 928.5,178.1 929.1,174.0 929.7,174.8 930.3,169.4 930.9,165.3 931.5,160.6 932.1,152.9 932.7,154.3 933.3,150.7 933.9,148.8 934.5,148.8 935.1,148.7 935.7,152.9 936.3,152.0 936.9,153.1 937.5,155.1 938.1,156.5 938.7,158.2 939.3,158.9 939.9,159.0 940.5,164.9 941.1,162.6 941.7,164.5 942.3,160.6 942.9,156.1 943.5,153.9 944.1,154.4 944.7,153.6 945.3,150.3 945.9,150.1 946.5,150.6 947.1,140.5 947.7,129.8 948.3,133.4 948.9,136.8 949.5,139.6 950.1,137.8 950.7,134.6 951.3,135.7 951.9,132.1 952.5,135.0 953.1,141.6 953.7,138.0 954.3,133.5 954.9,129.5 955.5,127.3 956.1,120.4 956.8,117.6 957.4,114.1 958.0,116.1 958.6,114.1 959.2,116.0 959.8,118.2 960.4,119.2 961.0,116.2 961.6,114.8 962.2,109.6 962.8,110.6 963.4,112.9 964.0,106.6 964.6,108.0 965.2,113.5 965.8,117.8 966.4,122.5 967.0,125.7 967.6,127.6 968.2,125.2 968.8,121.1 969.4,125.4 970.0,129.2 970.6,131.8 971.2,133.6 971.8,132.3 972.4,130.2 973.0,127.8 973.6,126.9 974.2,124.1 974.8,122.0 975.4,119.5 976.0,115.8 976.6,113.4 977.2,105.8 977.8,104.3 978.4,109.3 979.0,112.7 979.6,115.6 980.2,115.4 980.8,116.6 981.4,116.3 982.0,119.8 982.6,127.8 983.2,131.2 983.8,134.9 984.4,136.3 985.0,137.3 985.6,140.5 986.2,142.6 986.9,151.0 987.5,152.2 988.1,155.2 988.7,155.9 989.3,155.1 989.9,152.6 990.5,147.8 991.1,144.2 991.7,139.4 992.3,141.7 992.9,146.5 993.5,144.7 994.1,148.8 994.7,149.6 995.3,151.0 995.9,152.4 996.5,151.4 997.1,156.1 997.7,160.2 998.3,158.7 998.9,160.9 999.5,159.7 1000.1,158.3 1000.7,153.6 1001.3,154.4 1001.9,148.8 1002.5,145.1 1003.1,149.3 1003.7,145.6 1004.3,147.2 1004.9,151.4 1005.5,153.5 1006.1,157.0 1006.7,162.0 1007.3,164.7 1007.9,167.8 1008.5,170.5 1009.1,174.3 1009.7,178.4 1010.3,181.2 1010.9,180.4 1011.5,176.3 1012.1,175.2 1012.7,177.6 1013.3,176.9 1013.9,176.9 1014.5,172.0 1015.1,170.2 1015.7,167.9 1016.3,165.4 1017.0,165.0 1017.6,173.3 1018.2,174.3 1018.8,178.2 1019.4,179.4 1020.0,184.6 1020.6,187.8 1021.2,184.3 1021.8,187.7 1022.4,185.4 1023.0,180.1 1023.6,180.9 1024.2,179.6 1024.8,182.5 1025.4,180.9 1026.0,184.5 1026.6,192.1 1027.2,195.7 1027.8,197.9 1028.4,194.3 1029.0,196.1 1029.6,196.1 1030.2,190.5 1030.8,183.1 1031.4,178.2 1032.0,178.3 1032.6,185.7 1033.2,186.8 1033.8,192.1 1034.4,194.3 1035.0,197.2 1035.6,197.4 1036.2,197.5 1036.8,192.5 1037.4,195.5 1038.0,200.4 1038.6,200.0 1039.2,204.3 1039.8,203.4 1040.4,203.7 1041.0,205.0 1041.6,204.8 1042.2,201.7 1042.8,198.9 1043.4,196.5 1044.0,191.7 1044.6,192.7 1045.2,196.0 1045.8,195.3 1046.4,196.9 1047.1,201.1 1047.7,201.5 1048.3,205.4 1048.9,204.2 1049.5,206.2 1050.1,205.6 1050.7,204.7 1051.3,204.1 1051.9,200.4 1052.5,201.5 1053.1,203.6 1053.7,204.7 1054.3,207.2 1054.9,205.5 1055.5,207.2 1056.1,213.7 1056.7,215.9 1057.3,219.0 1057.9,218.4 1058.5,218.9 1059.1,218.6 1059.7,222.2 1060.3,223.4 1060.9,219.2 1061.5,216.3 1062.1,214.8 1062.7,212.3 1063.3,204.3 1063.9,206.0 1064.5,205.0 1065.1,205.1 1065.7,207.0 1066.3,207.9 1066.9,206.0 1067.5,205.8 1068.1,203.8 1068.7,201.8 1069.3,199.1 1069.9,195.9 1070.5,186.6 1071.1,185.4 1071.7,183.5 1072.3,186.9 1072.9,181.9 1073.5,181.8 1074.1,180.6 1074.7,180.3 1075.3,179.0 1075.9,180.9 1076.5,179.5 1077.2,174.5 1077.8,173.7 1078.4,171.2 1079.0,170.9 1079.6,169.1 1080.2,171.0 1080.8,171.5 1081.4,173.1 1082.0,170.8 1082.6,161.6 1083.2,159.0 1083.8,159.9 1084.4,155.2 1085.0,152.4 1085.6,147.8 1086.2,146.4 1086.8,148.0 1087.4,146.4 1088.0,147.8 1088.6,150.4 1089.2,151.0 1089.8,156.1 1090.4,160.0 1091.0,163.8 1091.6,164.1 1092.2,166.1 1092.8,166.6 1093.4,169.2 1094.0,167.9 1094.6,162.0 1095.2,163.6 1095.8,166.4 1096.4,167.6 1097.0,162.1 1097.6,161.7 1098.2,160.5 1098.8,153.4 1099.4,153.7 1100.0,148.8 1100.6,155.3 1101.2,153.8 1101.8,155.2 1102.4,156.2 1103.0,156.9 1103.6,158.4 1104.2,157.7 1104.8,157.2 1105.4,157.0 1106.0,156.9 1106.6,157.7 1107.3,152.0 1107.9,153.8 1108.5,153.3 1109.1,155.4 1109.7,157.4 1110.3,166.4 1110.9,170.4 1111.5,173.3 1112.1,176.1 1112.7,172.9 1113.3,175.7 1113.9,174.5 1114.5,176.0 1115.1,176.3 1115.7,174.0 1116.3,179.8 1116.9,181.2 1117.5,189.9 1118.1,199.9 1118.7,204.2 1119.3,196.4 1119.9,195.5 1120.5,197.5 1121.1,196.1 1121.7,200.4 1122.3,196.8 1122.9,199.3 1123.5,199.1 1124.1,199.3 1124.7,196.5 1125.3,192.8 1125.9,189.7 1126.5,184.2 1127.1,183.2 1127.7,181.3 1128.3,178.4 1128.9,185.0 1129.5,186.8 1130.1,188.2 1130.7,193.5 1131.3,192.8 1131.9,189.4 1132.5,187.8 1133.1,182.6 1133.7,183.9 1134.3,178.2 1134.9,176.8 1135.5,173.5 1136.1,173.7 1136.7,174.9 1137.4,172.6 1138.0,174.9 1138.6,174.9 1139.2,178.3 1139.8,181.6 1140.4,178.9 1141.0,184.2 1141.6,179.9 1142.2,179.0 1142.8,184.0 1143.4,180.2 1144.0,170.5 1144.6,165.0 1145.2,168.6 1145.8,167.0 1146.4,168.0 1147.0,170.0 1147.6,171.8 1148.2,165.8 1148.8,165.0 1149.4,169.3 1150.0,171.7 1150.6,172.8 1151.2,171.7 1151.8,172.4 1152.4,165.3 1153.0,163.3 1153.6,163.6 1154.2,159.4 1154.8,156.5 1155.4,153.7 1156.0,156.6 1156.6,158.3 1157.2,157.9 1157.8,161.4 1158.4,159.3 1159.0,152.7 1159.6,146.7 1160.2,146.9 1160.8,147.0 1161.4,152.8 1162.0,159.4 1162.6,158.8 1163.2,159.2 1163.8,162.2 1164.4,163.6 1165.0,158.7 1165.6,153.4 1166.2,151.6 1166.8,156.4 1167.5,160.8 1168.1,160.8 1168.7,164.2 1169.3,170.8 1169.9,169.9 1170.5,170.3 1171.1,169.0 1171.7,167.7 1172.3,166.6 1172.9,166.6 1173.5,169.9 1174.1,167.8 1174.7,168.6 1175.3,169.5 1175.9,174.5 1176.5,171.3 1177.1,175.6 1177.7,176.5 1178.3,175.2 1178.9,171.4 1179.5,168.4 1180.1,167.5 1180.7,165.5 1181.3,161.9 1181.9,163.3 1182.5,157.4 1183.1,162.4 1183.7,162.5 1184.3,162.0 1184.9,165.1 1185.5,165.7 1186.1,161.0 1186.7,161.0 1187.3,160.5 1187.9,160.9 1188.5,158.3 1189.1,156.4 1189.7,151.6 1190.3,145.7 1190.9,143.2 1191.5,137.2 1192.1,133.7 1192.7,130.2 1193.3,132.4 1193.9,130.5 1194.5,129.4 1195.1,130.7 1195.7,128.3 1196.3,124.7 1196.9,125.2 1197.6,131.7 1198.2,132.7 1198.8,136.0 1199.4,137.3 1200.0,137.4 1200.6,142.2 1201.2,145.0 1201.8,140.5 1202.4,135.6 1203.0,137.7 1203.6,140.6 1204.2,144.9 1204.8,146.9 1205.4,146.5 1206.0,142.5 1206.6,143.7 1207.2,146.5 1207.8,149.3 1208.4,150.3 1209.0,151.5 1209.6,151.6 1210.2,150.0 1210.8,152.7 1211.4,150.2 1212.0,146.8 1212.6,147.5 1213.2,144.6 1213.8,147.9 1214.4,145.0 1215.0,143.6 1215.6,147.8 1216.2,154.8 1216.8,164.1 1217.4,166.1 1218.0,164.2 1218.6,155.4 1219.2,156.2 1219.8,154.1 1220.4,149.5 1221.0,145.7 1221.6,144.9 1222.2,138.5 1222.8,134.2 1223.4,133.6 1224.0,139.3 1224.6,143.2 1225.2,146.0 1225.8,148.4 1226.4,150.6 1227.0,146.5 1227.7,141.3 1228.3,141.7 1228.9,137.1 1229.5,137.1 1230.1,134.9 1230.7,133.9 1231.3,134.6 1231.9,131.0 1232.5,128.4 1233.1,132.1 1233.7,132.1 1234.3,135.9 1234.9,139.8 1235.5,137.2 1236.1,136.0 1236.7,141.4 1237.3,143.2 1237.9,147.5 1238.5,150.5 1239.1,152.7 1239.7,153.6 1240.3,158.0 1240.9,160.8 1241.5,159.9 1242.1,155.8 1242.7,149.6 1243.3,147.1 1243.9,154.7 1244.5,152.4 1245.1,160.8 1245.7,167.9 1246.3,175.9 1246.9,174.3 1247.5,174.7 1248.1,170.3 1248.7,166.1 1249.3,163.5 1249.9,162.9 1250.5,162.1 1251.1,160.3 1251.7,163.3 1252.3,159.3 1252.9,160.6 1253.5,157.7 1254.1,159.2 1254.7,156.5 1255.3,154.2 1255.9,154.2 1256.5,155.9 1257.1,158.9 1257.8,161.4 1258.4,161.1 1259.0,159.1 1259.6,160.7 1260.2,161.1 1260.8,159.9 1261.4,157.8 1262.0,158.3 1262.6,158.1 1263.2,158.5 1263.8,157.9 1264.4,161.9 1265.0,163.1 1265.6,167.8 1266.2,170.9 1266.8,171.2 1267.4,174.8 1268.0,177.4 1268.6,183.4 1269.2,181.8 1269.8,178.1 1270.4,181.8 1271.0,184.0 1271.6,188.0 1272.2,193.1 1272.8,197.5 1273.4,196.4 1274.0,194.7 1274.6,190.1 1275.2,188.0 1275.8,182.4 1276.4,179.3 1277.0,177.2 1277.6,172.8 1278.2,170.0 1278.8,171.1 1279.4,167.2 1280.0,166.0 1280.6,164.6 1281.2,165.3 1281.8,164.4 1282.4,162.4 1283.0,166.2 1283.6,163.5 1284.2,164.1 1284.8,168.0 1285.4,163.2 1286.0,162.6 1286.6,163.0 1287.2,163.4 1287.9,165.2 1288.5,166.8 1289.1,163.8 1289.7,156.5 1290.3,150.3 1290.9,146.1 1291.5,142.0 1292.1,139.6 1292.7,136.5 1293.3,135.4 1293.9,137.1 1294.5,134.8 1295.1,136.1 1295.7,138.4 1296.3,142.6 1296.9,141.7 1297.5,148.5 1298.1,146.0 1298.7,148.1 1299.3,152.1 1299.9,150.0 1300.5,153.9 1301.1,152.0 1301.7,151.7 1302.3,154.5 1302.9,154.2 1303.5,158.8 1304.1,160.2 1304.7,160.4 1305.3,158.5 1305.9,156.7 1306.5,155.4 1307.1,150.1 1307.7,149.4 1308.3,151.1 1308.9,151.4 1309.5,149.4 1310.1,149.1 1310.7,146.2 1311.3,151.0 1311.9,146.7 1312.5,145.1 1313.1,148.4 1313.7,149.3 1314.3,149.2 1314.9,142.7 1315.5,134.5 1316.1,136.8 1316.7,132.3 1317.3,126.0 1318.0,122.0 1318.6,125.9 1319.2,122.2 1319.8,123.6 1320.4,124.4 1321.0,128.2 1321.6,130.5 1322.2,129.0 1322.8,128.0 1323.4,129.3 1324.0,130.3 1324.6,129.2 1325.2,136.6 1325.8,138.0 1326.4,142.1 1327.0,145.6 1327.6,150.3 1328.2,150.8 1328.8,152.4 1329.4,148.7 1330.0,148.0 1330.6,151.4 1331.2,152.4 1331.8,156.5 1332.4,156.9 1333.0,160.4 1333.6,163.4 1334.2,165.1 1334.8,164.3 1335.4,167.3 1336.0,167.6 1336.6,163.1 1337.2,163.9 1337.8,160.6 1338.4,156.2 1339.0,154.3 1339.6,157.1 1340.2,158.6 1340.8,160.7 1341.4,163.6 1342.0,164.7 1342.6,163.5 1343.2,165.2 1343.8,170.6 1344.4,168.5 1345.0,171.2 1345.6,174.0 1346.2,174.2 1346.8,169.2 1347.4,166.6 1348.1,161.3 1348.7,160.4 1349.3,156.8 1349.9,156.7 1350.5,155.4 1351.1,150.8 1351.7,147.4 1352.3,156.0 1352.9,156.6 1353.5,158.0 1354.1,156.7 1354.7,156.3 1355.3,156.5 1355.9,159.3 1356.5,166.0 1357.1,168.5 1357.7,166.8 1358.3,166.1 1358.9,162.7 1359.5,167.0 1360.1,165.7 1360.7,169.9 1361.3,174.5 1361.9,174.8" fill="none" stroke="#1863bd" stroke-width="2.8" stroke-linejoin="round" stroke-linecap="round"/>
<polyline points="760.5,340.6 761.1,338.6 761.7,327.2 762.3,326.8 762.9,325.7 763.5,324.2 764.1,320.7 764.7,320.2 765.3,316.1 765.9,314.9 766.5,313.5 767.1,309.5 767.7,308.6 768.3,308.7 768.9,306.7 769.5,309.4 770.1,308.4 770.7,308.9 771.3,303.9 771.9,305.0 772.5,300.2 773.1,300.0 773.7,300.2 774.3,299.4 774.9,296.5 775.5,295.4 776.2,298.9 776.8,297.4 777.4,300.2 778.0,299.0 778.6,300.5 779.2,301.7 779.8,304.2 780.4,304.4 781.0,306.5 781.6,304.6 782.2,304.4 782.8,302.3 783.4,303.3 784.0,300.0 784.6,295.4 785.2,296.7 785.8,290.2 786.4,289.3 787.0,287.7 787.6,290.0 788.2,289.0 788.8,291.6 789.4,292.5 790.0,288.9 790.6,291.7 791.2,291.2 791.8,290.1 792.4,290.2 793.0,288.6 793.6,289.0 794.2,291.9 794.8,294.5 795.4,294.1 796.0,292.1 796.6,287.3 797.2,279.3 797.8,275.4 798.4,272.6 799.0,265.6 799.6,266.4 800.2,258.8 800.8,261.0 801.4,258.4 802.0,257.6 802.6,257.9 803.2,259.7 803.8,260.6 804.4,260.8 805.0,257.9 805.6,258.3 806.3,254.7 806.9,254.9 807.5,255.9 808.1,259.7 808.7,256.6 809.3,259.8 809.9,268.3 810.5,272.1 811.1,277.7 811.7,285.0 812.3,282.4 812.9,283.7 813.5,279.0 814.1,279.6 814.7,278.5 815.3,276.1 815.9,270.7 816.5,272.1 817.1,266.7 817.7,264.6 818.3,265.1 818.9,268.2 819.5,269.5 820.1,273.4 820.7,274.4 821.3,274.5 821.9,271.9 822.5,275.3 823.1,267.5 823.7,267.3 824.3,266.7 824.9,263.5 825.5,259.2 826.1,260.4 826.7,260.1 827.3,257.8 827.9,261.9 828.5,262.2 829.1,260.1 829.7,254.8 830.3,254.3 830.9,251.1 831.5,250.5 832.1,251.8 832.7,254.5 833.3,254.5 833.9,256.3 834.5,256.7 835.1,257.9 835.7,253.7 836.4,254.3 837.0,258.1 837.6,257.5 838.2,259.5 838.8,259.7 839.4,260.6 840.0,263.0 840.6,263.3 841.2,263.1 841.8,260.5 842.4,264.8 843.0,262.1 843.6,263.1 844.2,262.7 844.8,264.7 845.4,262.9 846.0,263.6 846.6,266.0 847.2,271.0 847.8,275.6 848.4,279.6 849.0,281.3 849.6,281.8 850.2,288.3 850.8,282.9 851.4,284.2 852.0,289.2 852.6,284.4 853.2,286.7 853.8,286.4 854.4,286.9 855.0,285.1 855.6,284.9 856.2,287.8 856.8,288.3 857.4,282.5 858.0,284.7 858.6,281.4 859.2,279.3 859.8,271.6 860.4,263.3 861.0,259.7 861.6,259.2 862.2,259.1 862.8,263.7 863.4,262.6 864.0,264.2 864.6,266.1 865.2,265.3 865.8,267.9 866.5,268.3 867.1,268.3 867.7,267.6 868.3,269.9 868.9,273.2 869.5,272.4 870.1,275.9 870.7,276.8 871.3,277.0 871.9,281.2 872.5,278.1 873.1,283.0 873.7,284.8 874.3,281.9 874.9,281.8 875.5,282.6 876.1,282.9 876.7,280.4 877.3,279.1 877.9,280.0 878.5,277.6 879.1,275.6 879.7,276.6 880.3,278.2 880.9,275.8 881.5,279.3 882.1,278.4 882.7,281.7 883.3,276.4 883.9,275.5 884.5,273.8 885.1,276.6 885.7,276.5 886.3,276.8 886.9,275.0 887.5,273.8 888.1,275.6 888.7,272.8 889.3,275.9 889.9,275.6 890.5,277.4 891.1,275.4 891.7,280.5 892.3,279.9 892.9,277.2 893.5,280.5 894.1,280.4 894.7,278.3 895.3,280.4 895.9,280.5 896.6,278.2 897.2,278.7 897.8,283.1 898.4,282.9 899.0,283.2 899.6,280.9 900.2,282.5 900.8,284.7 901.4,285.4 902.0,283.1 902.6,281.1 903.2,284.1 903.8,281.7 904.4,279.6 905.0,279.2 905.6,279.2 906.2,283.6 906.8,281.6 907.4,279.2 908.0,277.4 908.6,282.8 909.2,282.4 909.8,280.7 910.4,279.1 911.0,273.2 911.6,272.2 912.2,274.1 912.8,271.4 913.4,270.1 914.0,266.7 914.6,265.2 915.2,265.6 915.8,261.7 916.4,261.0 917.0,261.3 917.6,260.9 918.2,261.5 918.8,261.9 919.4,256.6 920.0,258.6 920.6,257.6 921.2,259.4 921.8,255.5 922.4,257.5 923.0,255.7 923.6,254.2 924.2,250.0 924.8,251.0 925.4,247.8 926.0,250.2 926.7,250.4 927.3,244.8 927.9,245.1 928.5,244.0 929.1,240.6 929.7,241.8 930.3,236.6 930.9,234.4 931.5,229.9 932.1,231.9 932.7,227.2 933.3,225.5 933.9,221.5 934.5,214.5 935.1,215.4 935.7,217.9 936.3,223.4 936.9,224.3 937.5,228.4 938.1,230.1 938.7,231.6 939.3,233.7 939.9,233.2 940.5,228.3 941.1,227.3 941.7,228.4 942.3,221.0 942.9,225.5 943.5,225.9 944.1,222.9 944.7,223.5 945.3,218.2 945.9,219.6 946.5,214.3 947.1,212.5 947.7,213.1 948.3,212.6 948.9,212.1 949.5,214.4 950.1,214.7 950.7,213.7 951.3,216.9 951.9,217.9 952.5,211.2 953.1,210.3 953.7,213.3 954.3,218.8 954.9,213.8 955.5,209.3 956.1,201.7 956.8,201.7 957.4,199.2 958.0,201.9 958.6,199.8 959.2,196.7 959.8,201.8 960.4,202.0 961.0,199.8 961.6,192.8 962.2,195.6 962.8,194.5 963.4,192.6 964.0,189.8 964.6,187.7 965.2,193.0 965.8,199.1 966.4,203.9 967.0,201.3 967.6,198.1 968.2,202.8 968.8,202.3 969.4,206.1 970.0,207.6 970.6,208.6 971.2,205.8 971.8,206.7 972.4,202.1 973.0,196.6 973.6,196.5 974.2,194.2 974.8,192.4 975.4,189.8 976.0,191.3 976.6,188.0 977.2,181.1 977.8,189.8 978.4,194.2 979.0,194.6 979.6,194.5 980.2,196.6 980.8,194.8 981.4,197.8 982.0,201.4 982.6,200.7 983.2,202.1 983.8,204.4 984.4,210.6 985.0,216.2 985.6,217.6 986.2,224.5 986.9,234.4 987.5,235.0 988.1,237.6 988.7,235.2 989.3,233.1 989.9,231.9 990.5,230.1 991.1,228.2 991.7,227.2 992.3,231.0 992.9,233.5 993.5,232.0 994.1,229.0 994.7,233.4 995.3,236.2 995.9,230.4 996.5,231.5 997.1,231.7 997.7,234.5 998.3,237.9 998.9,243.0 999.5,239.3 1000.1,238.0 1000.7,240.5 1001.3,232.9 1001.9,228.8 1002.5,230.3 1003.1,228.1 1003.7,226.2 1004.3,228.5 1004.9,228.3 1005.5,232.8 1006.1,241.0 1006.7,244.2 1007.3,245.1 1007.9,246.5 1008.5,248.0 1009.1,247.5 1009.7,246.4 1010.3,247.9 1010.9,244.3 1011.5,244.7 1012.1,246.4 1012.7,246.6 1013.3,245.7 1013.9,246.3 1014.5,246.5 1015.1,243.6 1015.7,246.3 1016.3,245.1 1017.0,246.3 1017.6,250.2 1018.2,250.3 1018.8,255.4 1019.4,254.2 1020.0,255.8 1020.6,256.6 1021.2,255.8 1021.8,255.3 1022.4,253.1 1023.0,251.9 1023.6,247.5 1024.2,245.5 1024.8,248.1 1025.4,251.7 1026.0,250.2 1026.6,253.9 1027.2,254.9 1027.8,255.6 1028.4,257.5 1029.0,259.5 1029.6,255.6 1030.2,253.4 1030.8,246.1 1031.4,248.0 1032.0,252.6 1032.6,258.3 1033.2,261.4 1033.8,257.8 1034.4,258.8 1035.0,261.6 1035.6,256.3 1036.2,257.8 1036.8,261.9 1037.4,262.7 1038.0,261.8 1038.6,267.6 1039.2,267.9 1039.8,267.9 1040.4,263.6 1041.0,264.1 1041.6,267.2 1042.2,264.6 1042.8,263.8 1043.4,261.9 1044.0,263.5 1044.6,259.2 1045.2,260.7 1045.8,258.4 1046.4,256.7 1047.1,262.6 1047.7,260.4 1048.3,262.3 1048.9,263.6 1049.5,259.6 1050.1,259.0 1050.7,262.0 1051.3,262.1 1051.9,262.0 1052.5,265.4 1053.1,269.5 1053.7,265.9 1054.3,271.3 1054.9,269.8 1055.5,270.9 1056.1,267.0 1056.7,271.2 1057.3,274.8 1057.9,276.0 1058.5,274.4 1059.1,277.2 1059.7,277.2 1060.3,274.6 1060.9,271.1 1061.5,270.0 1062.1,269.8 1062.7,268.6 1063.3,268.3 1063.9,264.4 1064.5,266.0 1065.1,266.6 1065.7,267.6 1066.3,268.1 1066.9,266.5 1067.5,262.3 1068.1,261.6 1068.7,259.3 1069.3,257.5 1069.9,256.0 1070.5,253.8 1071.1,252.8 1071.7,251.8 1072.3,251.3 1072.9,252.9 1073.5,255.3 1074.1,251.7 1074.7,252.0 1075.3,252.0 1075.9,250.5 1076.5,252.5 1077.2,247.7 1077.8,245.9 1078.4,245.8 1079.0,246.2 1079.6,243.2 1080.2,241.7 1080.8,240.9 1081.4,239.3 1082.0,241.4 1082.6,238.0 1083.2,243.4 1083.8,234.1 1084.4,235.2 1085.0,237.5 1085.6,236.8 1086.2,233.4 1086.8,232.6 1087.4,231.1 1088.0,230.8 1088.6,234.5 1089.2,238.3 1089.8,239.4 1090.4,241.0 1091.0,244.4 1091.6,243.9 1092.2,244.8 1092.8,245.0 1093.4,243.2 1094.0,244.8 1094.6,242.8 1095.2,244.7 1095.8,247.0 1096.4,245.9 1097.0,244.1 1097.6,243.9 1098.2,238.3 1098.8,235.5 1099.4,235.3 1100.0,231.1 1100.6,235.7 1101.2,240.5 1101.8,239.1 1102.4,240.7 1103.0,240.0 1103.6,241.6 1104.2,240.4 1104.8,241.1 1105.4,235.6 1106.0,240.9 1106.6,240.8 1107.3,239.6 1107.9,237.6 1108.5,241.0 1109.1,240.8 1109.7,243.4 1110.3,247.6 1110.9,246.7 1111.5,248.6 1112.1,248.2 1112.7,246.8 1113.3,247.8 1113.9,248.4 1114.5,247.8 1115.1,249.4 1115.7,249.9 1116.3,252.8 1116.9,254.9 1117.5,260.0 1118.1,266.1 1118.7,266.7 1119.3,268.2 1119.9,265.9 1120.5,262.1 1121.1,261.7 1121.7,263.2 1122.3,259.2 1122.9,263.3 1123.5,262.7 1124.1,267.2 1124.7,266.4 1125.3,263.7 1125.9,263.0 1126.5,256.7 1127.1,255.1 1127.7,254.7 1128.3,256.6 1128.9,257.8 1129.5,257.3 1130.1,258.4 1130.7,256.2 1131.3,255.1 1131.9,252.3 1132.5,251.7 1133.1,251.7 1133.7,248.4 1134.3,247.0 1134.9,247.5 1135.5,246.3 1136.1,247.6 1136.7,242.5 1137.4,248.1 1138.0,251.1 1138.6,250.4 1139.2,252.1 1139.8,252.3 1140.4,252.7 1141.0,255.0 1141.6,252.6 1142.2,251.5 1142.8,255.5 1143.4,252.2 1144.0,248.6 1144.6,245.4 1145.2,243.2 1145.8,239.8 1146.4,239.5 1147.0,239.0 1147.6,235.2 1148.2,236.6 1148.8,236.8 1149.4,234.3 1150.0,239.6 1150.6,240.2 1151.2,244.7 1151.8,247.6 1152.4,238.8 1153.0,235.8 1153.6,234.6 1154.2,232.0 1154.8,233.4 1155.4,234.3 1156.0,231.4 1156.6,233.4 1157.2,232.4 1157.8,232.1 1158.4,234.6 1159.0,230.8 1159.6,228.3 1160.2,227.2 1160.8,229.6 1161.4,231.3 1162.0,229.3 1162.6,232.6 1163.2,234.2 1163.8,237.6 1164.4,235.4 1165.0,235.2 1165.6,232.1 1166.2,227.0 1166.8,229.1 1167.5,231.8 1168.1,231.5 1168.7,235.4 1169.3,237.1 1169.9,240.4 1170.5,242.0 1171.1,241.9 1171.7,240.3 1172.3,237.9 1172.9,235.2 1173.5,237.9 1174.1,239.5 1174.7,240.7 1175.3,240.0 1175.9,237.3 1176.5,241.2 1177.1,238.7 1177.7,240.7 1178.3,239.0 1178.9,241.9 1179.5,239.1 1180.1,237.3 1180.7,234.1 1181.3,235.1 1181.9,231.7 1182.5,230.4 1183.1,233.7 1183.7,233.0 1184.3,235.8 1184.9,233.7 1185.5,236.5 1186.1,232.2 1186.7,234.7 1187.3,233.9 1187.9,232.1 1188.5,234.0 1189.1,225.2 1189.7,225.5 1190.3,219.3 1190.9,216.3 1191.5,214.8 1192.1,213.7 1192.7,212.7 1193.3,211.6 1193.9,212.1 1194.5,208.0 1195.1,211.0 1195.7,207.7 1196.3,209.2 1196.9,206.7 1197.6,210.7 1198.2,211.1 1198.8,214.8 1199.4,217.4 1200.0,215.6 1200.6,217.3 1201.2,219.5 1201.8,221.4 1202.4,216.6 1203.0,219.3 1203.6,218.3 1204.2,215.4 1204.8,216.8 1205.4,216.9 1206.0,220.9 1206.6,217.4 1207.2,221.9 1207.8,220.9 1208.4,223.3 1209.0,219.2 1209.6,220.3 1210.2,221.8 1210.8,219.4 1211.4,218.8 1212.0,222.1 1212.6,224.0 1213.2,223.4 1213.8,223.0 1214.4,223.7 1215.0,221.4 1215.6,225.0 1216.2,230.6 1216.8,232.3 1217.4,238.2 1218.0,236.3 1218.6,233.4 1219.2,232.2 1219.8,231.4 1220.4,230.9 1221.0,229.0 1221.6,222.1 1222.2,222.0 1222.8,215.1 1223.4,218.1 1224.0,220.5 1224.6,223.1 1225.2,221.1 1225.8,225.3 1226.4,227.2 1227.0,226.2 1227.7,221.6 1228.3,222.4 1228.9,217.7 1229.5,214.5 1230.1,217.9 1230.7,223.4 1231.3,218.1 1231.9,219.1 1232.5,217.5 1233.1,217.1 1233.7,214.5 1234.3,218.4 1234.9,225.1 1235.5,225.3 1236.1,227.3 1236.7,223.2 1237.3,226.6 1237.9,229.6 1238.5,230.8 1239.1,229.5 1239.7,232.4 1240.3,230.0 1240.9,232.4 1241.5,232.0 1242.1,228.6 1242.7,224.1 1243.3,227.3 1243.9,226.4 1244.5,231.4 1245.1,238.7 1245.7,244.4 1246.3,243.0 1246.9,239.4 1247.5,238.0 1248.1,241.1 1248.7,239.3 1249.3,234.7 1249.9,235.2 1250.5,236.1 1251.1,236.7 1251.7,232.1 1252.3,231.8 1252.9,231.9 1253.5,230.0 1254.1,229.1 1254.7,230.5 1255.3,235.2 1255.9,236.6 1256.5,237.0 1257.1,234.9 1257.8,232.4 1258.4,233.8 1259.0,233.8 1259.6,235.4 1260.2,232.4 1260.8,232.8 1261.4,228.5 1262.0,227.5 1262.6,232.0 1263.2,230.9 1263.8,231.3 1264.4,230.0 1265.0,236.6 1265.6,233.4 1266.2,237.6 1266.8,235.7 1267.4,239.2 1268.0,243.3 1268.6,243.0 1269.2,244.1 1269.8,247.3 1270.4,248.8 1271.0,252.4 1271.6,249.8 1272.2,255.9 1272.8,252.6 1273.4,249.7 1274.0,250.2 1274.6,247.5 1275.2,245.3 1275.8,244.6 1276.4,237.9 1277.0,235.7 1277.6,235.1 1278.2,235.1 1278.8,232.8 1279.4,232.7 1280.0,232.7 1280.6,234.3 1281.2,237.6 1281.8,234.4 1282.4,234.3 1283.0,235.9 1283.6,235.2 1284.2,235.1 1284.8,237.2 1285.4,236.2 1286.0,232.8 1286.6,230.6 1287.2,235.9 1287.9,234.0 1288.5,236.3 1289.1,238.1 1289.7,240.5 1290.3,235.2 1290.9,229.4 1291.5,224.5 1292.1,223.1 1292.7,223.3 1293.3,219.8 1293.9,222.2 1294.5,224.2 1295.1,224.9 1295.7,225.4 1296.3,225.9 1296.9,227.3 1297.5,228.9 1298.1,230.9 1298.7,233.1 1299.3,233.6 1299.9,235.6 1300.5,237.8 1301.1,234.7 1301.7,236.0 1302.3,237.8 1302.9,237.8 1303.5,234.9 1304.1,234.7 1304.7,236.5 1305.3,234.6 1305.9,233.7 1306.5,231.9 1307.1,229.8 1307.7,232.1 1308.3,232.9 1308.9,234.4 1309.5,235.8 1310.1,233.4 1310.7,234.4 1311.3,231.2 1311.9,231.9 1312.5,232.2 1313.1,229.9 1313.7,230.9 1314.3,231.6 1314.9,229.3 1315.5,225.7 1316.1,224.5 1316.7,219.2 1317.3,214.1 1318.0,214.8 1318.6,211.9 1319.2,213.3 1319.8,214.7 1320.4,218.7 1321.0,218.8 1321.6,220.0 1322.2,224.0 1322.8,222.2 1323.4,224.3 1324.0,221.7 1324.6,223.2 1325.2,224.4 1325.8,228.4 1326.4,228.0 1327.0,232.7 1327.6,232.2 1328.2,230.4 1328.8,229.0 1329.4,231.3 1330.0,232.3 1330.6,234.1 1331.2,233.8 1331.8,239.3 1332.4,241.1 1333.0,245.1 1333.6,242.1 1334.2,243.2 1334.8,240.4 1335.4,241.2 1336.0,239.5 1336.6,238.6 1337.2,239.8 1337.8,237.9 1338.4,239.3 1339.0,236.3 1339.6,239.0 1340.2,237.0 1340.8,239.6 1341.4,242.8 1342.0,240.6 1342.6,244.2 1343.2,241.7 1343.8,241.4 1344.4,247.2 1345.0,242.1 1345.6,245.2 1346.2,246.3 1346.8,244.7 1347.4,240.4 1348.1,243.9 1348.7,237.2 1349.3,233.9 1349.9,236.3 1350.5,232.3 1351.1,231.7 1351.7,232.5 1352.3,230.3 1352.9,230.5 1353.5,233.1 1354.1,236.4 1354.7,234.0 1355.3,240.2 1355.9,239.9 1356.5,240.8 1357.1,241.8 1357.7,241.1 1358.3,240.7 1358.9,239.9 1359.5,241.0 1360.1,239.8 1360.7,242.2 1361.3,238.4 1361.9,246.5" fill="none" stroke="#e6611f" stroke-width="2.8" stroke-linejoin="round" stroke-linecap="round"/>
<path d="M69.70,59.00L75.90,59.00L75.90,369.50M69.70,363.90L75.90,363.90M69.70,333.41L75.90,333.41M69.70,302.92L75.90,302.92M69.70,272.43L75.90,272.43M69.70,241.94L75.90,241.94M69.70,211.45L75.90,211.45M69.70,180.96L75.90,180.96M69.70,150.47L75.90,150.47M69.70,119.98L75.90,119.98M69.70,89.49L75.90,89.49M69.70,363.90L642.80,363.90L642.80,369.50M132.59,363.90L132.59,369.50M189.28,363.90L189.28,369.50M245.97,363.90L245.97,369.50M302.66,363.90L302.66,369.50M359.35,363.90L359.35,369.50M416.04,363.90L416.04,369.50M472.73,363.90L472.73,369.50M529.42,363.90L529.42,369.50M586.11,363.90L586.11,369.50" fill="none" stroke="#000" stroke-width="1.85" stroke-linejoin="round" stroke-linecap="round"/>
<path d="M753.80,51.80L760.00,51.80L760.00,369.20M753.80,363.60L760.00,363.60M753.80,332.42L760.00,332.42M753.80,301.24L760.00,301.24M753.80,270.06L760.00,270.06M753.80,238.88L760.00,238.88M753.80,207.70L760.00,207.70M753.80,176.52L760.00,176.52M753.80,145.34L760.00,145.34M753.80,114.16L760.00,114.16M753.80,82.98L760.00,82.98M753.80,363.60L1362.00,363.60L1362.00,369.20M820.20,363.60L820.20,369.20M880.40,363.60L880.40,369.20M940.60,363.60L940.60,369.20M1000.80,363.60L1000.80,369.20M1061.00,363.60L1061.00,369.20M1121.20,363.60L1121.20,369.20M1181.40,363.60L1181.40,369.20M1241.60,363.60L1241.60,369.20M1301.80,363.60L1301.80,369.20" fill="none" stroke="#000" stroke-width="1.85" stroke-linejoin="round" stroke-linecap="round"/>
<g font-family='"Liberation Sans", sans-serif' font-weight="bold" fill="#000">
<text x="56.8" y="369.7" text-anchor="end" font-size="18.6">0</text>
<text x="56.8" y="339.2" text-anchor="end" font-size="18.6">4</text>
<text x="56.8" y="308.7" text-anchor="end" font-size="18.6">8</text>
<text x="56.8" y="278.2" text-anchor="end" font-size="18.6">12</text>
<text x="56.8" y="247.7" text-anchor="end" font-size="18.6">16</text>
<text x="56.8" y="217.2" text-anchor="end" font-size="18.6">20</text>
<text x="56.8" y="186.8" text-anchor="end" font-size="18.6">24</text>
<text x="56.8" y="156.3" text-anchor="end" font-size="18.6">28</text>
<text x="56.8" y="125.8" text-anchor="end" font-size="18.6">32</text>
<text x="56.8" y="95.3" text-anchor="end" font-size="18.6">36</text>
<text x="56.8" y="64.8" text-anchor="end" font-size="18.6">40</text>
<text x="75.9" y="397.2" text-anchor="middle" font-size="18.6">0</text>
<text x="132.6" y="397.2" text-anchor="middle" font-size="18.6">10</text>
<text x="189.3" y="397.2" text-anchor="middle" font-size="18.6">20</text>
<text x="246.0" y="397.2" text-anchor="middle" font-size="18.6">30</text>
<text x="302.7" y="397.2" text-anchor="middle" font-size="18.6">40</text>
<text x="359.4" y="397.2" text-anchor="middle" font-size="18.6">50</text>
<text x="416.0" y="397.2" text-anchor="middle" font-size="18.6">60</text>
<text x="472.7" y="397.2" text-anchor="middle" font-size="18.6">70</text>
<text x="529.4" y="397.2" text-anchor="middle" font-size="18.6">80</text>
<text x="586.1" y="397.2" text-anchor="middle" font-size="18.6">90</text>
<text x="642.8" y="397.2" text-anchor="middle" font-size="18.6">100</text>
<text x="740.2" y="369.4" text-anchor="end" font-size="18.6">0</text>
<text x="740.2" y="338.2" text-anchor="end" font-size="18.6">4</text>
<text x="740.2" y="307.0" text-anchor="end" font-size="18.6">8</text>
<text x="740.2" y="275.9" text-anchor="end" font-size="18.6">12</text>
<text x="740.2" y="244.7" text-anchor="end" font-size="18.6">16</text>
<text x="740.2" y="213.5" text-anchor="end" font-size="18.6">20</text>
<text x="740.2" y="182.3" text-anchor="end" font-size="18.6">24</text>
<text x="740.2" y="151.1" text-anchor="end" font-size="18.6">28</text>
<text x="740.2" y="120.0" text-anchor="end" font-size="18.6">32</text>
<text x="740.2" y="88.8" text-anchor="end" font-size="18.6">36</text>
<text x="740.2" y="57.6" text-anchor="end" font-size="18.6">40</text>
<text x="760.0" y="396.8" text-anchor="middle" font-size="18.6">0</text>
<text x="820.2" y="396.8" text-anchor="middle" font-size="18.6">10</text>
<text x="880.4" y="396.8" text-anchor="middle" font-size="18.6">20</text>
<text x="940.6" y="396.8" text-anchor="middle" font-size="18.6">30</text>
<text x="1000.8" y="396.8" text-anchor="middle" font-size="18.6">40</text>
<text x="1061.0" y="396.8" text-anchor="middle" font-size="18.6">50</text>
<text x="1121.2" y="396.8" text-anchor="middle" font-size="18.6">60</text>
<text x="1181.4" y="396.8" text-anchor="middle" font-size="18.6">70</text>
<text x="1241.6" y="396.8" text-anchor="middle" font-size="18.6">80</text>
<text x="1301.8" y="396.8" text-anchor="middle" font-size="18.6">90</text>
<text x="1362.0" y="396.8" text-anchor="middle" font-size="18.6">100</text>
<text x="6.1" y="23.9" font-size="30.3" text-anchor="start">A</text>
<text x="720.6" y="23.9" font-size="30.0" text-anchor="start">B</text>
<text x="343" y="423" font-size="19.6" text-anchor="start" textLength="87.6" lengthAdjust="spacingAndGlyphs">Time (ns)</text>
<text x="1040.8" y="420.2" font-size="19.6" text-anchor="start" textLength="88" lengthAdjust="spacingAndGlyphs">Time (ns)</text>
<text transform="translate(21,311.4) rotate(-90)" x="0" y="0" font-size="19.6" textLength="201.6" lengthAdjust="spacingAndGlyphs">Protein C&#945;-RMSD (&#197;)</text>
<text x="199.4" y="446.3" font-size="19.6" text-anchor="start" textLength="51.8" lengthAdjust="spacingAndGlyphs">TLR-4</text>
<text x="351.5" y="446.3" font-size="19.6" text-anchor="start" textLength="71.1" lengthAdjust="spacingAndGlyphs">Epitope</text>
<text x="523" y="446.3" font-size="19.6" text-anchor="start" textLength="82.7" lengthAdjust="spacingAndGlyphs">Complex</text>
<text x="869.4" y="444.7" font-size="19.6" text-anchor="start" textLength="52.2" lengthAdjust="spacingAndGlyphs">TLR-8</text>
<text x="1033.3" y="444.7" font-size="19.6" text-anchor="start" textLength="71.5" lengthAdjust="spacingAndGlyphs">Epitope</text>
<text x="1218" y="444.7" font-size="19.6" text-anchor="start" textLength="82.3" lengthAdjust="spacingAndGlyphs">Complex</text>
</g>
<line x1="143.3" y1="439.7" x2="192.9" y2="439.7" stroke="#ec1c24" stroke-width="2.8" stroke-linecap="round"/>
<line x1="294.8" y1="439.7" x2="344.9" y2="439.7" stroke="#1863bd" stroke-width="2.8" stroke-linecap="round"/>
<line x1="466.2" y1="439.7" x2="516.4" y2="439.7" stroke="#e6611f" stroke-width="2.8" stroke-linecap="round"/>
<line x1="814.2" y1="438.5" x2="862.9" y2="438.5" stroke="#ec1c24" stroke-width="2.8" stroke-linecap="round"/>
<line x1="976.8" y1="438.5" x2="1025.4" y2="438.5" stroke="#1863bd" stroke-width="2.8" stroke-linecap="round"/>
<line x1="1162.5" y1="438.5" x2="1210.3" y2="438.5" stroke="#e6611f" stroke-width="2.8" stroke-linecap="round"/>
</svg>
</body></html>
